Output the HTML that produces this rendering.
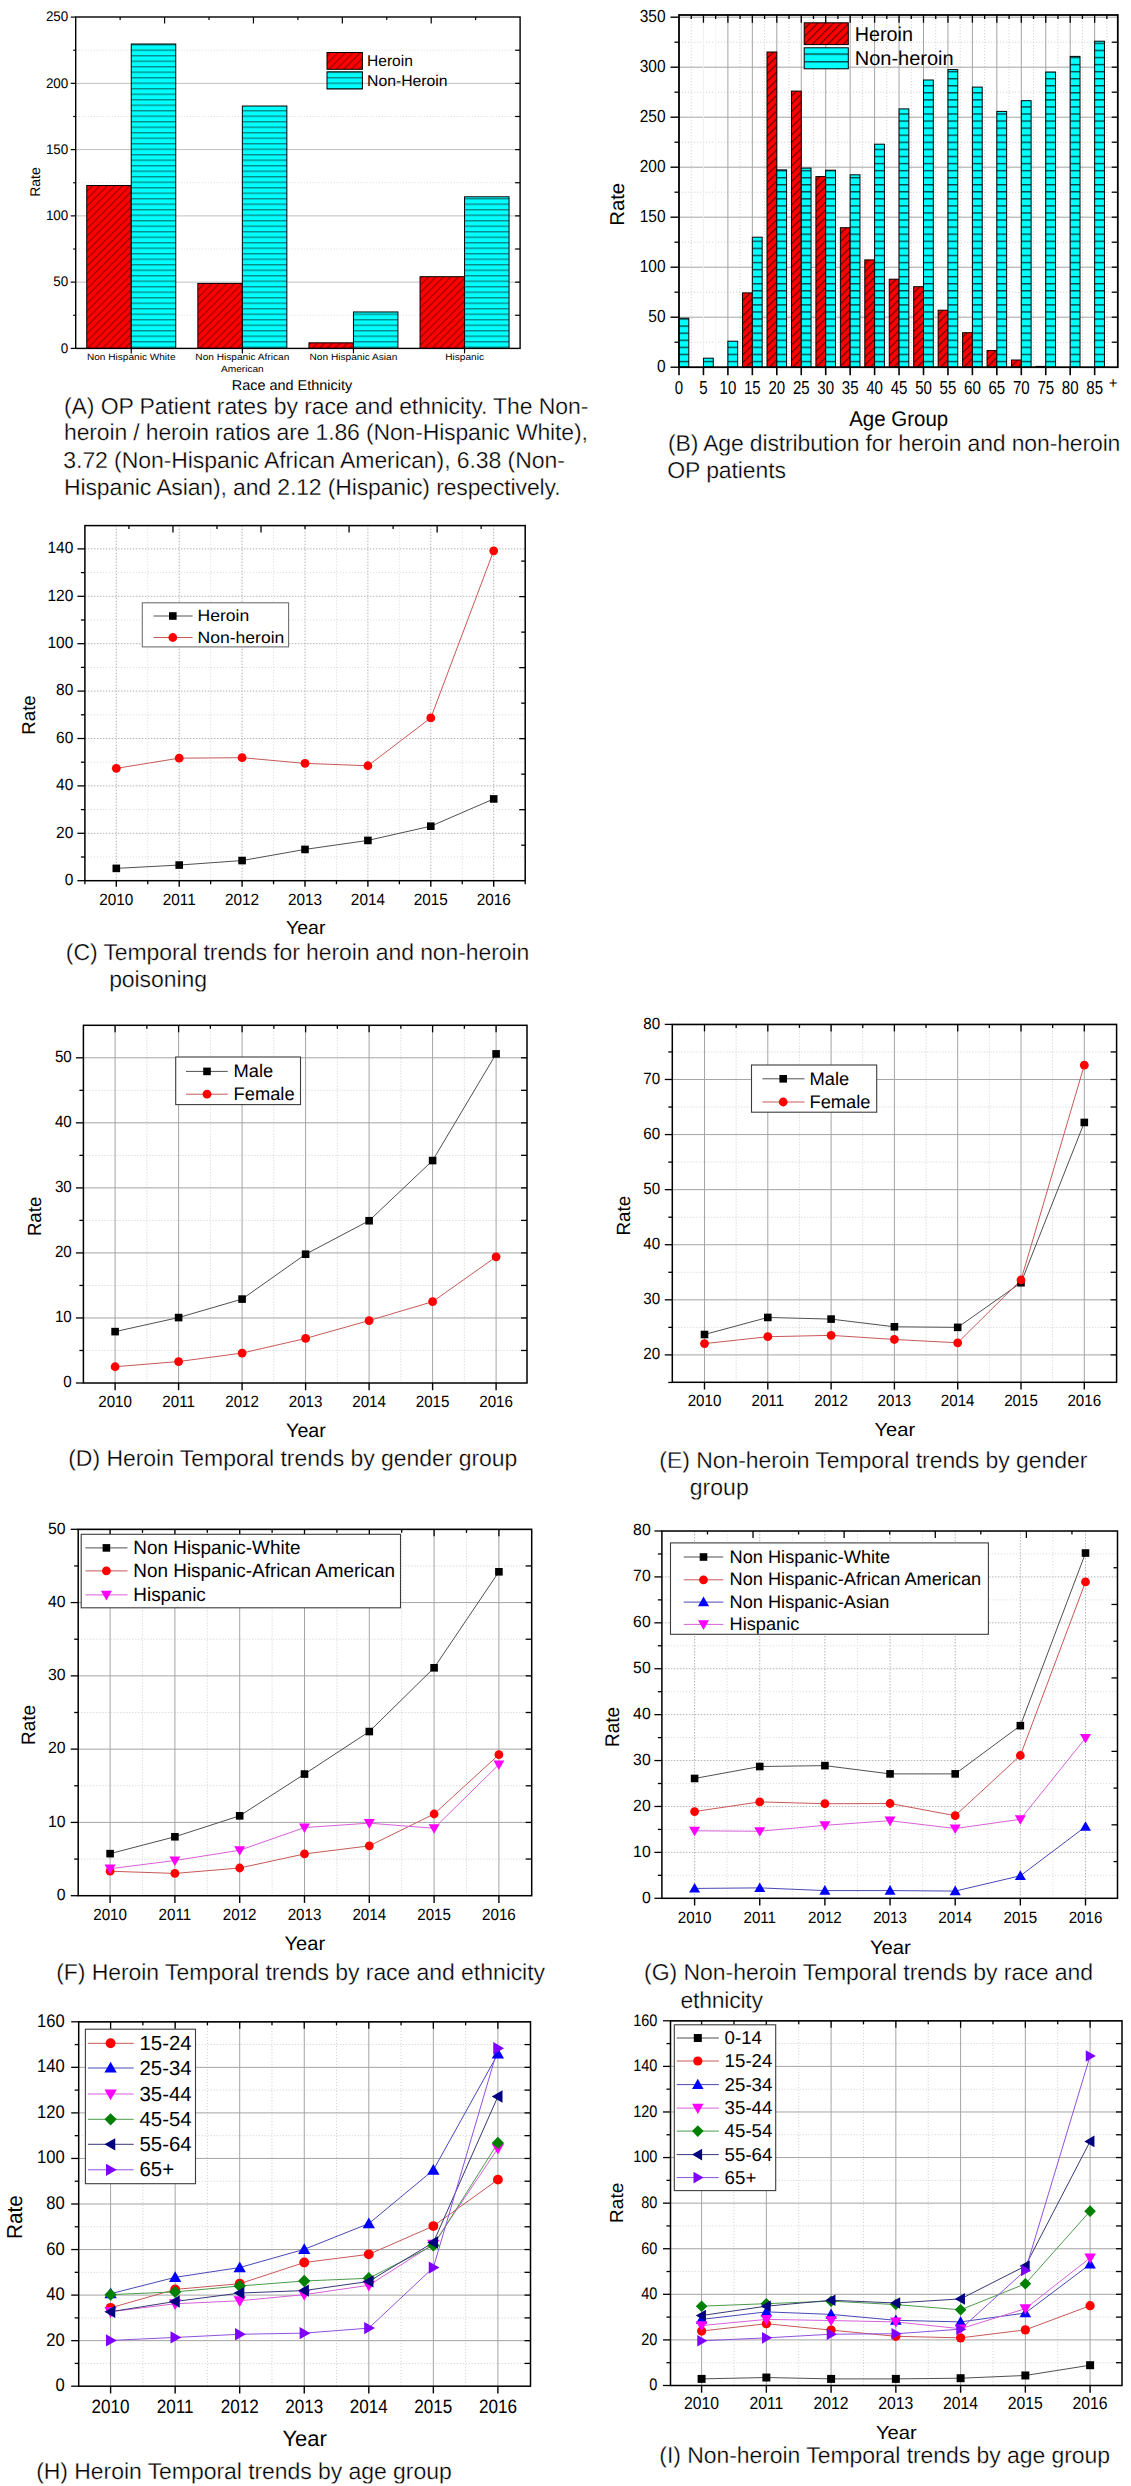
<!DOCTYPE html>
<html><head><meta charset="utf-8"><title>Figure</title>
<style>html,body{margin:0;padding:0;background:#fff;}svg{display:block;}text{font-family:"Liberation Sans",sans-serif;}</style>
</head><body>
<svg width="1131" height="2486" viewBox="0 0 1131 2486" font-family="Liberation Sans, sans-serif" text-rendering="geometricPrecision">
<defs>
<pattern id="hatchR" patternUnits="userSpaceOnUse" width="5.3" height="5.3" patternTransform="rotate(45)">
<rect width="5.3" height="5.3" fill="#ff0000"/><line x1="0.6" y1="0" x2="0.6" y2="5.3" stroke="#900000" stroke-width="1.1"/></pattern>
<pattern id="hatchRB" patternUnits="userSpaceOnUse" width="5.5" height="5.5" patternTransform="rotate(45)">
<rect width="5.5" height="5.5" fill="#ff0000"/><line x1="0.6" y1="0" x2="0.6" y2="5.5" stroke="#600000" stroke-width="1.15"/></pattern>
<pattern id="hatchC" patternUnits="userSpaceOnUse" width="10" height="5.5">
<rect width="10" height="5.5" fill="#00ffff"/><rect x="0" y="0" width="10" height="1.4" fill="#0a8a8a"/></pattern>
<pattern id="hatchCB" patternUnits="userSpaceOnUse" width="10" height="7.07" y="0.2">
<rect width="10" height="7.07" fill="#00ffff"/><rect x="0" y="0" width="10" height="1.4" fill="#064848"/></pattern>
<pattern id="hatchCL" patternUnits="userSpaceOnUse" width="10" height="7.7" y="-0.5">
<rect width="10" height="7.7" fill="#00ffff"/><rect x="0" y="0" width="10" height="1.4" fill="#064848"/></pattern>
</defs>
<rect width="1131" height="2486" fill="#fff"/>
<line x1="75.7" y1="315.27" x2="520.1" y2="315.27" stroke="#e2e2e2" stroke-width="1" stroke-dasharray="1.2 1.8"/>
<line x1="75.7" y1="249.01" x2="520.1" y2="249.01" stroke="#e2e2e2" stroke-width="1" stroke-dasharray="1.2 1.8"/>
<line x1="75.7" y1="182.75" x2="520.1" y2="182.75" stroke="#e2e2e2" stroke-width="1" stroke-dasharray="1.2 1.8"/>
<line x1="75.7" y1="116.49" x2="520.1" y2="116.49" stroke="#e2e2e2" stroke-width="1" stroke-dasharray="1.2 1.8"/>
<line x1="75.7" y1="50.23" x2="520.1" y2="50.23" stroke="#e2e2e2" stroke-width="1" stroke-dasharray="1.2 1.8"/>
<line x1="75.7" y1="282.14" x2="520.1" y2="282.14" stroke="#c0c0c0" stroke-width="1"/>
<line x1="75.7" y1="215.88" x2="520.1" y2="215.88" stroke="#c0c0c0" stroke-width="1"/>
<line x1="75.7" y1="149.62" x2="520.1" y2="149.62" stroke="#c0c0c0" stroke-width="1"/>
<line x1="75.7" y1="83.36" x2="520.1" y2="83.36" stroke="#c0c0c0" stroke-width="1"/>
<rect x="86.75" y="185.53" width="44.5" height="162.87" fill="url(#hatchR)" stroke="#000" stroke-width="1"/>
<rect x="131.25" y="44" width="44.5" height="304.4" fill="url(#hatchC)" stroke="#000" stroke-width="1"/>
<rect x="197.85" y="283.4" width="44.5" height="65" fill="url(#hatchR)" stroke="#000" stroke-width="1"/>
<rect x="242.35" y="106.02" width="44.5" height="242.38" fill="url(#hatchC)" stroke="#000" stroke-width="1"/>
<rect x="308.95" y="342.83" width="44.5" height="5.57" fill="url(#hatchR)" stroke="#000" stroke-width="1"/>
<rect x="353.45" y="311.96" width="44.5" height="36.44" fill="url(#hatchC)" stroke="#000" stroke-width="1"/>
<rect x="420.05" y="276.71" width="44.5" height="71.69" fill="url(#hatchR)" stroke="#000" stroke-width="1"/>
<rect x="464.55" y="196.8" width="44.5" height="151.6" fill="url(#hatchC)" stroke="#000" stroke-width="1"/>
<line x1="70.7" y1="348.4" x2="75.7" y2="348.4" stroke="#000" stroke-width="1.2"/>
<line x1="70.7" y1="282.14" x2="75.7" y2="282.14" stroke="#000" stroke-width="1.2"/>
<line x1="70.7" y1="215.88" x2="75.7" y2="215.88" stroke="#000" stroke-width="1.2"/>
<line x1="70.7" y1="149.62" x2="75.7" y2="149.62" stroke="#000" stroke-width="1.2"/>
<line x1="70.7" y1="83.36" x2="75.7" y2="83.36" stroke="#000" stroke-width="1.2"/>
<line x1="70.7" y1="17.1" x2="75.7" y2="17.1" stroke="#000" stroke-width="1.2"/>
<line x1="73.2" y1="315.27" x2="75.7" y2="315.27" stroke="#000" stroke-width="1.2"/>
<line x1="73.2" y1="249.01" x2="75.7" y2="249.01" stroke="#000" stroke-width="1.2"/>
<line x1="73.2" y1="182.75" x2="75.7" y2="182.75" stroke="#000" stroke-width="1.2"/>
<line x1="73.2" y1="116.49" x2="75.7" y2="116.49" stroke="#000" stroke-width="1.2"/>
<line x1="73.2" y1="50.23" x2="75.7" y2="50.23" stroke="#000" stroke-width="1.2"/>
<line x1="515.1" y1="315.27" x2="520.1" y2="315.27" stroke="#000" stroke-width="1.2"/>
<line x1="515.1" y1="282.14" x2="520.1" y2="282.14" stroke="#000" stroke-width="1.2"/>
<line x1="515.1" y1="249.01" x2="520.1" y2="249.01" stroke="#000" stroke-width="1.2"/>
<line x1="515.1" y1="215.88" x2="520.1" y2="215.88" stroke="#000" stroke-width="1.2"/>
<line x1="515.1" y1="182.75" x2="520.1" y2="182.75" stroke="#000" stroke-width="1.2"/>
<line x1="515.1" y1="149.62" x2="520.1" y2="149.62" stroke="#000" stroke-width="1.2"/>
<line x1="515.1" y1="116.49" x2="520.1" y2="116.49" stroke="#000" stroke-width="1.2"/>
<line x1="515.1" y1="83.36" x2="520.1" y2="83.36" stroke="#000" stroke-width="1.2"/>
<line x1="515.1" y1="50.23" x2="520.1" y2="50.23" stroke="#000" stroke-width="1.2"/>
<line x1="120.14" y1="17" x2="120.14" y2="20" stroke="#000" stroke-width="1.2"/>
<line x1="164.58" y1="17" x2="164.58" y2="23.5" stroke="#000" stroke-width="1.2"/>
<line x1="209.02" y1="17" x2="209.02" y2="20" stroke="#000" stroke-width="1.2"/>
<line x1="253.46" y1="17" x2="253.46" y2="23.5" stroke="#000" stroke-width="1.2"/>
<line x1="297.9" y1="17" x2="297.9" y2="20" stroke="#000" stroke-width="1.2"/>
<line x1="342.34" y1="17" x2="342.34" y2="23.5" stroke="#000" stroke-width="1.2"/>
<line x1="386.78" y1="17" x2="386.78" y2="20" stroke="#000" stroke-width="1.2"/>
<line x1="431.22" y1="17" x2="431.22" y2="23.5" stroke="#000" stroke-width="1.2"/>
<line x1="475.66" y1="17" x2="475.66" y2="20" stroke="#000" stroke-width="1.2"/>
<line x1="131.25" y1="348.4" x2="131.25" y2="353.4" stroke="#000" stroke-width="1.2"/>
<line x1="242.35" y1="348.4" x2="242.35" y2="353.4" stroke="#000" stroke-width="1.2"/>
<line x1="353.45" y1="348.4" x2="353.45" y2="353.4" stroke="#000" stroke-width="1.2"/>
<line x1="464.55" y1="348.4" x2="464.55" y2="353.4" stroke="#000" stroke-width="1.2"/>
<rect x="75.7" y="17" width="444.4" height="331.4" fill="none" stroke="#000" stroke-width="1.4"/>
<rect x="327" y="52.5" width="35.4" height="16.8" fill="url(#hatchR)" stroke="#000" stroke-width="1"/>
<rect x="327" y="71.8" width="35.4" height="17.2" fill="url(#hatchC)" stroke="#000" stroke-width="1"/>
<text x="367" y="66.3" font-size="15.5" textLength="45.9" lengthAdjust="spacingAndGlyphs">Heroin</text>
<text x="367.1" y="86.1" font-size="15.5" textLength="80.5" lengthAdjust="spacingAndGlyphs">Non-Heroin</text>
<text x="68.3" y="352.56" font-size="14" text-anchor="end" textLength="7.47" lengthAdjust="spacingAndGlyphs">0</text>
<text x="68.3" y="286.3" font-size="14" text-anchor="end" textLength="14.95" lengthAdjust="spacingAndGlyphs">50</text>
<text x="68.3" y="220.04" font-size="14" text-anchor="end" textLength="22.42" lengthAdjust="spacingAndGlyphs">100</text>
<text x="68.3" y="153.78" font-size="14" text-anchor="end" textLength="22.42" lengthAdjust="spacingAndGlyphs">150</text>
<text x="68.3" y="87.52" font-size="14" text-anchor="end" textLength="22.42" lengthAdjust="spacingAndGlyphs">200</text>
<text x="68.3" y="21.26" font-size="14" text-anchor="end" textLength="22.42" lengthAdjust="spacingAndGlyphs">250</text>
<text x="86.95" y="360.2" font-size="9.2" textLength="88.6" lengthAdjust="spacingAndGlyphs">Non Hispanic White</text>
<text x="242.35" y="360.2" font-size="9.2" text-anchor="middle" textLength="93.93" lengthAdjust="spacingAndGlyphs">Non Hispanic African</text>
<text x="242.35" y="372" font-size="9.2" text-anchor="middle" textLength="42.74" lengthAdjust="spacingAndGlyphs">American</text>
<text x="353.45" y="360.2" font-size="9.2" text-anchor="middle" textLength="87.75" lengthAdjust="spacingAndGlyphs">Non Hispanic Asian</text>
<text x="464.55" y="360.2" font-size="9.2" text-anchor="middle" textLength="38.81" lengthAdjust="spacingAndGlyphs">Hispanic</text>
<text x="231.8" y="389.8" font-size="14.3" textLength="120.4" lengthAdjust="spacingAndGlyphs">Race and Ethnicity</text>
<text x="40.4" y="182" font-size="14" text-anchor="middle" textLength="29.7" lengthAdjust="spacingAndGlyphs" transform="rotate(-90 40.4 182)">Rate</text>
<text x="64.05" y="413.5" font-size="23" textLength="524.25" lengthAdjust="spacing" stroke="#fff" stroke-width="0.3">(A) OP Patient rates by race and ethnicity.  The Non-</text>
<text x="64.05" y="440.4" font-size="23" textLength="523.75" lengthAdjust="spacing" stroke="#fff" stroke-width="0.3">heroin / heroin ratios are 1.86 (Non-Hispanic White),</text>
<text x="63.35" y="468.3" font-size="23" textLength="501.45" lengthAdjust="spacing" stroke="#fff" stroke-width="0.3">3.72 (Non-Hispanic African American), 6.38 (Non-</text>
<text x="64.05" y="495" font-size="23" textLength="496.55" lengthAdjust="spacing" stroke="#fff" stroke-width="0.3">Hispanic Asian), and 2.12 (Hispanic) respectively.</text>
<line x1="679" y1="342.2" x2="1117.8" y2="342.2" stroke="#d6d6d6" stroke-width="1" stroke-dasharray="1.2 1.8"/>
<line x1="679" y1="292.2" x2="1117.8" y2="292.2" stroke="#d6d6d6" stroke-width="1" stroke-dasharray="1.2 1.8"/>
<line x1="679" y1="242.2" x2="1117.8" y2="242.2" stroke="#d6d6d6" stroke-width="1" stroke-dasharray="1.2 1.8"/>
<line x1="679" y1="192.2" x2="1117.8" y2="192.2" stroke="#d6d6d6" stroke-width="1" stroke-dasharray="1.2 1.8"/>
<line x1="679" y1="142.2" x2="1117.8" y2="142.2" stroke="#d6d6d6" stroke-width="1" stroke-dasharray="1.2 1.8"/>
<line x1="679" y1="92.2" x2="1117.8" y2="92.2" stroke="#d6d6d6" stroke-width="1" stroke-dasharray="1.2 1.8"/>
<line x1="679" y1="42.2" x2="1117.8" y2="42.2" stroke="#d6d6d6" stroke-width="1" stroke-dasharray="1.2 1.8"/>
<line x1="691.23" y1="15" x2="691.23" y2="367.2" stroke="#d6d6d6" stroke-width="1" stroke-dasharray="1.2 1.8"/>
<line x1="715.68" y1="15" x2="715.68" y2="367.2" stroke="#f4f4f4" stroke-width="1"/>
<line x1="740.12" y1="15" x2="740.12" y2="367.2" stroke="#d6d6d6" stroke-width="1" stroke-dasharray="1.2 1.8"/>
<line x1="764.58" y1="15" x2="764.58" y2="367.2" stroke="#d6d6d6" stroke-width="1" stroke-dasharray="1.2 1.8"/>
<line x1="789.02" y1="15" x2="789.02" y2="367.2" stroke="#d6d6d6" stroke-width="1" stroke-dasharray="1.2 1.8"/>
<line x1="813.48" y1="15" x2="813.48" y2="367.2" stroke="#d6d6d6" stroke-width="1" stroke-dasharray="1.2 1.8"/>
<line x1="837.93" y1="15" x2="837.93" y2="367.2" stroke="#d6d6d6" stroke-width="1" stroke-dasharray="1.2 1.8"/>
<line x1="862.38" y1="15" x2="862.38" y2="367.2" stroke="#d6d6d6" stroke-width="1" stroke-dasharray="1.2 1.8"/>
<line x1="886.83" y1="15" x2="886.83" y2="367.2" stroke="#d6d6d6" stroke-width="1" stroke-dasharray="1.2 1.8"/>
<line x1="911.27" y1="15" x2="911.27" y2="367.2" stroke="#d6d6d6" stroke-width="1" stroke-dasharray="1.2 1.8"/>
<line x1="935.73" y1="15" x2="935.73" y2="367.2" stroke="#d6d6d6" stroke-width="1" stroke-dasharray="1.2 1.8"/>
<line x1="960.18" y1="15" x2="960.18" y2="367.2" stroke="#d6d6d6" stroke-width="1" stroke-dasharray="1.2 1.8"/>
<line x1="984.62" y1="15" x2="984.62" y2="367.2" stroke="#d6d6d6" stroke-width="1" stroke-dasharray="1.2 1.8"/>
<line x1="1009.07" y1="15" x2="1009.07" y2="367.2" stroke="#d6d6d6" stroke-width="1" stroke-dasharray="1.2 1.8"/>
<line x1="1033.52" y1="15" x2="1033.52" y2="367.2" stroke="#d6d6d6" stroke-width="1" stroke-dasharray="1.2 1.8"/>
<line x1="1057.97" y1="15" x2="1057.97" y2="367.2" stroke="#d6d6d6" stroke-width="1" stroke-dasharray="1.2 1.8"/>
<line x1="1082.42" y1="15" x2="1082.42" y2="367.2" stroke="#d6d6d6" stroke-width="1" stroke-dasharray="1.2 1.8"/>
<line x1="1106.88" y1="15" x2="1106.88" y2="367.2" stroke="#d6d6d6" stroke-width="1" stroke-dasharray="1.2 1.8"/>
<line x1="679" y1="317.2" x2="1117.8" y2="317.2" stroke="#a4a4a4" stroke-width="1"/>
<line x1="679" y1="267.2" x2="1117.8" y2="267.2" stroke="#a4a4a4" stroke-width="1"/>
<line x1="679" y1="217.2" x2="1117.8" y2="217.2" stroke="#a4a4a4" stroke-width="1"/>
<line x1="679" y1="167.2" x2="1117.8" y2="167.2" stroke="#a4a4a4" stroke-width="1"/>
<line x1="679" y1="117.2" x2="1117.8" y2="117.2" stroke="#a4a4a4" stroke-width="1"/>
<line x1="679" y1="67.2" x2="1117.8" y2="67.2" stroke="#a4a4a4" stroke-width="1"/>
<line x1="679" y1="17.2" x2="1117.8" y2="17.2" stroke="#a4a4a4" stroke-width="1"/>
<line x1="703.45" y1="15" x2="703.45" y2="367.2" stroke="#f0f0f0" stroke-width="1"/>
<line x1="727.9" y1="15" x2="727.9" y2="367.2" stroke="#a4a4a4" stroke-width="1"/>
<line x1="752.35" y1="15" x2="752.35" y2="367.2" stroke="#a4a4a4" stroke-width="1"/>
<line x1="776.8" y1="15" x2="776.8" y2="367.2" stroke="#a4a4a4" stroke-width="1"/>
<line x1="801.25" y1="15" x2="801.25" y2="367.2" stroke="#a4a4a4" stroke-width="1"/>
<line x1="825.7" y1="15" x2="825.7" y2="367.2" stroke="#a4a4a4" stroke-width="1"/>
<line x1="850.15" y1="15" x2="850.15" y2="367.2" stroke="#a4a4a4" stroke-width="1"/>
<line x1="874.6" y1="15" x2="874.6" y2="367.2" stroke="#a4a4a4" stroke-width="1"/>
<line x1="899.05" y1="15" x2="899.05" y2="367.2" stroke="#a4a4a4" stroke-width="1"/>
<line x1="923.5" y1="15" x2="923.5" y2="367.2" stroke="#a4a4a4" stroke-width="1"/>
<line x1="947.95" y1="15" x2="947.95" y2="367.2" stroke="#a4a4a4" stroke-width="1"/>
<line x1="972.4" y1="15" x2="972.4" y2="367.2" stroke="#a4a4a4" stroke-width="1"/>
<line x1="996.85" y1="15" x2="996.85" y2="367.2" stroke="#a4a4a4" stroke-width="1"/>
<line x1="1021.3" y1="15" x2="1021.3" y2="367.2" stroke="#a4a4a4" stroke-width="1"/>
<line x1="1045.75" y1="15" x2="1045.75" y2="367.2" stroke="#a4a4a4" stroke-width="1"/>
<line x1="1070.2" y1="15" x2="1070.2" y2="367.2" stroke="#a4a4a4" stroke-width="1"/>
<line x1="1094.65" y1="15" x2="1094.65" y2="367.2" stroke="#a4a4a4" stroke-width="1"/>
<rect x="679" y="318.2" width="9.8" height="49" fill="url(#hatchCB)" stroke="#000" stroke-width="1"/>
<rect x="703.45" y="358.2" width="9.8" height="9" fill="url(#hatchCB)" stroke="#000" stroke-width="1"/>
<rect x="727.9" y="341.2" width="9.8" height="26" fill="url(#hatchCB)" stroke="#000" stroke-width="1"/>
<rect x="742.55" y="292.9" width="9.8" height="74.3" fill="url(#hatchRB)" stroke="#000" stroke-width="1"/>
<rect x="752.35" y="237.2" width="9.8" height="130" fill="url(#hatchCB)" stroke="#000" stroke-width="1"/>
<rect x="767" y="52" width="9.8" height="315.2" fill="url(#hatchRB)" stroke="#000" stroke-width="1"/>
<rect x="776.8" y="169.9" width="9.8" height="197.3" fill="url(#hatchCB)" stroke="#000" stroke-width="1"/>
<rect x="791.45" y="91.1" width="9.8" height="276.1" fill="url(#hatchRB)" stroke="#000" stroke-width="1"/>
<rect x="801.25" y="168.1" width="9.8" height="199.1" fill="url(#hatchCB)" stroke="#000" stroke-width="1"/>
<rect x="815.9" y="176.6" width="9.8" height="190.6" fill="url(#hatchRB)" stroke="#000" stroke-width="1"/>
<rect x="825.7" y="170.2" width="9.8" height="197" fill="url(#hatchCB)" stroke="#000" stroke-width="1"/>
<rect x="840.35" y="227.7" width="9.8" height="139.5" fill="url(#hatchRB)" stroke="#000" stroke-width="1"/>
<rect x="850.15" y="174.8" width="9.8" height="192.4" fill="url(#hatchCB)" stroke="#000" stroke-width="1"/>
<rect x="864.8" y="259.9" width="9.8" height="107.3" fill="url(#hatchRB)" stroke="#000" stroke-width="1"/>
<rect x="874.6" y="144.2" width="9.8" height="223" fill="url(#hatchCB)" stroke="#000" stroke-width="1"/>
<rect x="889.25" y="279.2" width="9.8" height="88" fill="url(#hatchRB)" stroke="#000" stroke-width="1"/>
<rect x="899.05" y="108.9" width="9.8" height="258.3" fill="url(#hatchCB)" stroke="#000" stroke-width="1"/>
<rect x="913.7" y="286.7" width="9.8" height="80.5" fill="url(#hatchRB)" stroke="#000" stroke-width="1"/>
<rect x="923.5" y="80" width="9.8" height="287.2" fill="url(#hatchCB)" stroke="#000" stroke-width="1"/>
<rect x="938.15" y="310.2" width="9.8" height="57" fill="url(#hatchRB)" stroke="#000" stroke-width="1"/>
<rect x="947.95" y="69.6" width="9.8" height="297.6" fill="url(#hatchCB)" stroke="#000" stroke-width="1"/>
<rect x="962.6" y="332.7" width="9.8" height="34.5" fill="url(#hatchRB)" stroke="#000" stroke-width="1"/>
<rect x="972.4" y="87.1" width="9.8" height="280.1" fill="url(#hatchCB)" stroke="#000" stroke-width="1"/>
<rect x="987.05" y="350.6" width="9.8" height="16.6" fill="url(#hatchRB)" stroke="#000" stroke-width="1"/>
<rect x="996.85" y="111.4" width="9.8" height="255.8" fill="url(#hatchCB)" stroke="#000" stroke-width="1"/>
<rect x="1011.5" y="360" width="9.8" height="7.2" fill="url(#hatchRB)" stroke="#000" stroke-width="1"/>
<rect x="1021.3" y="100.7" width="9.8" height="266.5" fill="url(#hatchCB)" stroke="#000" stroke-width="1"/>
<rect x="1035.95" y="366.4" width="9.8" height="0.8" fill="url(#hatchRB)" stroke="#000" stroke-width="1"/>
<rect x="1045.75" y="72" width="9.8" height="295.2" fill="url(#hatchCB)" stroke="#000" stroke-width="1"/>
<rect x="1070.2" y="56.4" width="9.8" height="310.8" fill="url(#hatchCB)" stroke="#000" stroke-width="1"/>
<rect x="1094.65" y="41.2" width="9.8" height="326" fill="url(#hatchCB)" stroke="#000" stroke-width="1"/>
<line x1="670.5" y1="367.2" x2="679" y2="367.2" stroke="#000" stroke-width="1.4"/>
<line x1="670.5" y1="317.2" x2="679" y2="317.2" stroke="#000" stroke-width="1.4"/>
<line x1="670.5" y1="267.2" x2="679" y2="267.2" stroke="#000" stroke-width="1.4"/>
<line x1="670.5" y1="217.2" x2="679" y2="217.2" stroke="#000" stroke-width="1.4"/>
<line x1="670.5" y1="167.2" x2="679" y2="167.2" stroke="#000" stroke-width="1.4"/>
<line x1="670.5" y1="117.2" x2="679" y2="117.2" stroke="#000" stroke-width="1.4"/>
<line x1="670.5" y1="67.2" x2="679" y2="67.2" stroke="#000" stroke-width="1.4"/>
<line x1="670.5" y1="17.2" x2="679" y2="17.2" stroke="#000" stroke-width="1.4"/>
<line x1="674.5" y1="342.2" x2="679" y2="342.2" stroke="#000" stroke-width="1.3"/>
<line x1="674.5" y1="292.2" x2="679" y2="292.2" stroke="#000" stroke-width="1.3"/>
<line x1="674.5" y1="242.2" x2="679" y2="242.2" stroke="#000" stroke-width="1.3"/>
<line x1="674.5" y1="192.2" x2="679" y2="192.2" stroke="#000" stroke-width="1.3"/>
<line x1="674.5" y1="142.2" x2="679" y2="142.2" stroke="#000" stroke-width="1.3"/>
<line x1="674.5" y1="92.2" x2="679" y2="92.2" stroke="#000" stroke-width="1.3"/>
<line x1="674.5" y1="42.2" x2="679" y2="42.2" stroke="#000" stroke-width="1.3"/>
<line x1="1111.8" y1="342.2" x2="1117.8" y2="342.2" stroke="#000" stroke-width="1.3"/>
<line x1="1111.8" y1="317.2" x2="1117.8" y2="317.2" stroke="#000" stroke-width="1.3"/>
<line x1="1111.8" y1="292.2" x2="1117.8" y2="292.2" stroke="#000" stroke-width="1.3"/>
<line x1="1111.8" y1="267.2" x2="1117.8" y2="267.2" stroke="#000" stroke-width="1.3"/>
<line x1="1111.8" y1="242.2" x2="1117.8" y2="242.2" stroke="#000" stroke-width="1.3"/>
<line x1="1111.8" y1="217.2" x2="1117.8" y2="217.2" stroke="#000" stroke-width="1.3"/>
<line x1="1111.8" y1="192.2" x2="1117.8" y2="192.2" stroke="#000" stroke-width="1.3"/>
<line x1="1111.8" y1="167.2" x2="1117.8" y2="167.2" stroke="#000" stroke-width="1.3"/>
<line x1="1111.8" y1="142.2" x2="1117.8" y2="142.2" stroke="#000" stroke-width="1.3"/>
<line x1="1111.8" y1="117.2" x2="1117.8" y2="117.2" stroke="#000" stroke-width="1.3"/>
<line x1="1111.8" y1="92.2" x2="1117.8" y2="92.2" stroke="#000" stroke-width="1.3"/>
<line x1="1111.8" y1="67.2" x2="1117.8" y2="67.2" stroke="#000" stroke-width="1.3"/>
<line x1="1111.8" y1="42.2" x2="1117.8" y2="42.2" stroke="#000" stroke-width="1.3"/>
<line x1="691.23" y1="15" x2="691.23" y2="19" stroke="#000" stroke-width="1.3"/>
<line x1="679" y1="367.2" x2="679" y2="375.2" stroke="#000" stroke-width="1.6"/>
<line x1="703.45" y1="15" x2="703.45" y2="22.7" stroke="#000" stroke-width="1.3"/>
<line x1="715.68" y1="15" x2="715.68" y2="19" stroke="#000" stroke-width="1.3"/>
<line x1="703.45" y1="367.2" x2="703.45" y2="375.2" stroke="#000" stroke-width="1.6"/>
<line x1="727.9" y1="15" x2="727.9" y2="22.7" stroke="#000" stroke-width="1.3"/>
<line x1="740.12" y1="15" x2="740.12" y2="19" stroke="#000" stroke-width="1.3"/>
<line x1="727.9" y1="367.2" x2="727.9" y2="375.2" stroke="#000" stroke-width="1.6"/>
<line x1="752.35" y1="15" x2="752.35" y2="22.7" stroke="#000" stroke-width="1.3"/>
<line x1="764.58" y1="15" x2="764.58" y2="19" stroke="#000" stroke-width="1.3"/>
<line x1="752.35" y1="367.2" x2="752.35" y2="375.2" stroke="#000" stroke-width="1.6"/>
<line x1="776.8" y1="15" x2="776.8" y2="22.7" stroke="#000" stroke-width="1.3"/>
<line x1="789.02" y1="15" x2="789.02" y2="19" stroke="#000" stroke-width="1.3"/>
<line x1="776.8" y1="367.2" x2="776.8" y2="375.2" stroke="#000" stroke-width="1.6"/>
<line x1="801.25" y1="15" x2="801.25" y2="22.7" stroke="#000" stroke-width="1.3"/>
<line x1="813.48" y1="15" x2="813.48" y2="19" stroke="#000" stroke-width="1.3"/>
<line x1="801.25" y1="367.2" x2="801.25" y2="375.2" stroke="#000" stroke-width="1.6"/>
<line x1="825.7" y1="15" x2="825.7" y2="22.7" stroke="#000" stroke-width="1.3"/>
<line x1="837.93" y1="15" x2="837.93" y2="19" stroke="#000" stroke-width="1.3"/>
<line x1="825.7" y1="367.2" x2="825.7" y2="375.2" stroke="#000" stroke-width="1.6"/>
<line x1="850.15" y1="15" x2="850.15" y2="22.7" stroke="#000" stroke-width="1.3"/>
<line x1="862.38" y1="15" x2="862.38" y2="19" stroke="#000" stroke-width="1.3"/>
<line x1="850.15" y1="367.2" x2="850.15" y2="375.2" stroke="#000" stroke-width="1.6"/>
<line x1="874.6" y1="15" x2="874.6" y2="22.7" stroke="#000" stroke-width="1.3"/>
<line x1="886.83" y1="15" x2="886.83" y2="19" stroke="#000" stroke-width="1.3"/>
<line x1="874.6" y1="367.2" x2="874.6" y2="375.2" stroke="#000" stroke-width="1.6"/>
<line x1="899.05" y1="15" x2="899.05" y2="22.7" stroke="#000" stroke-width="1.3"/>
<line x1="911.27" y1="15" x2="911.27" y2="19" stroke="#000" stroke-width="1.3"/>
<line x1="899.05" y1="367.2" x2="899.05" y2="375.2" stroke="#000" stroke-width="1.6"/>
<line x1="923.5" y1="15" x2="923.5" y2="22.7" stroke="#000" stroke-width="1.3"/>
<line x1="935.73" y1="15" x2="935.73" y2="19" stroke="#000" stroke-width="1.3"/>
<line x1="923.5" y1="367.2" x2="923.5" y2="375.2" stroke="#000" stroke-width="1.6"/>
<line x1="947.95" y1="15" x2="947.95" y2="22.7" stroke="#000" stroke-width="1.3"/>
<line x1="960.18" y1="15" x2="960.18" y2="19" stroke="#000" stroke-width="1.3"/>
<line x1="947.95" y1="367.2" x2="947.95" y2="375.2" stroke="#000" stroke-width="1.6"/>
<line x1="972.4" y1="15" x2="972.4" y2="22.7" stroke="#000" stroke-width="1.3"/>
<line x1="984.62" y1="15" x2="984.62" y2="19" stroke="#000" stroke-width="1.3"/>
<line x1="972.4" y1="367.2" x2="972.4" y2="375.2" stroke="#000" stroke-width="1.6"/>
<line x1="996.85" y1="15" x2="996.85" y2="22.7" stroke="#000" stroke-width="1.3"/>
<line x1="1009.07" y1="15" x2="1009.07" y2="19" stroke="#000" stroke-width="1.3"/>
<line x1="996.85" y1="367.2" x2="996.85" y2="375.2" stroke="#000" stroke-width="1.6"/>
<line x1="1021.3" y1="15" x2="1021.3" y2="22.7" stroke="#000" stroke-width="1.3"/>
<line x1="1033.52" y1="15" x2="1033.52" y2="19" stroke="#000" stroke-width="1.3"/>
<line x1="1021.3" y1="367.2" x2="1021.3" y2="375.2" stroke="#000" stroke-width="1.6"/>
<line x1="1045.75" y1="15" x2="1045.75" y2="22.7" stroke="#000" stroke-width="1.3"/>
<line x1="1057.97" y1="15" x2="1057.97" y2="19" stroke="#000" stroke-width="1.3"/>
<line x1="1045.75" y1="367.2" x2="1045.75" y2="375.2" stroke="#000" stroke-width="1.6"/>
<line x1="1070.2" y1="15" x2="1070.2" y2="22.7" stroke="#000" stroke-width="1.3"/>
<line x1="1082.42" y1="15" x2="1082.42" y2="19" stroke="#000" stroke-width="1.3"/>
<line x1="1070.2" y1="367.2" x2="1070.2" y2="375.2" stroke="#000" stroke-width="1.6"/>
<line x1="1094.65" y1="15" x2="1094.65" y2="22.7" stroke="#000" stroke-width="1.3"/>
<line x1="1106.88" y1="15" x2="1106.88" y2="19" stroke="#000" stroke-width="1.3"/>
<line x1="1094.65" y1="367.2" x2="1094.65" y2="375.2" stroke="#000" stroke-width="1.6"/>
<rect x="679" y="15" width="438.8" height="352.2" fill="none" stroke="#000" stroke-width="1.8"/>
<rect x="804.2" y="22.8" width="44.1" height="21.8" fill="url(#hatchRB)" stroke="#000" stroke-width="1"/>
<rect x="804.2" y="47.8" width="44.1" height="21" fill="url(#hatchCL)" stroke="#000" stroke-width="1"/>
<text x="854.7" y="40.8" font-size="20" textLength="58.2" lengthAdjust="spacingAndGlyphs">Heroin</text>
<text x="854.7" y="64.9" font-size="20" textLength="99" lengthAdjust="spacingAndGlyphs">Non-heroin</text>
<text x="665.5" y="372.46" font-size="17.4" text-anchor="end" textLength="8.61" lengthAdjust="spacingAndGlyphs">0</text>
<text x="665.5" y="322.46" font-size="17.4" text-anchor="end" textLength="17.22" lengthAdjust="spacingAndGlyphs">50</text>
<text x="665.5" y="272.46" font-size="17.4" text-anchor="end" textLength="25.84" lengthAdjust="spacingAndGlyphs">100</text>
<text x="665.5" y="222.46" font-size="17.4" text-anchor="end" textLength="25.84" lengthAdjust="spacingAndGlyphs">150</text>
<text x="665.5" y="172.46" font-size="17.4" text-anchor="end" textLength="25.84" lengthAdjust="spacingAndGlyphs">200</text>
<text x="665.5" y="122.46" font-size="17.4" text-anchor="end" textLength="25.84" lengthAdjust="spacingAndGlyphs">250</text>
<text x="665.5" y="72.46" font-size="17.4" text-anchor="end" textLength="25.84" lengthAdjust="spacingAndGlyphs">300</text>
<text x="665.5" y="22.46" font-size="17.4" text-anchor="end" textLength="25.84" lengthAdjust="spacingAndGlyphs">350</text>
<text x="679" y="393.9" font-size="18.8" text-anchor="middle" textLength="8.36" lengthAdjust="spacingAndGlyphs">0</text>
<text x="703.45" y="393.9" font-size="18.8" text-anchor="middle" textLength="8.36" lengthAdjust="spacingAndGlyphs">5</text>
<text x="727.9" y="393.9" font-size="18.8" text-anchor="middle" textLength="16.73" lengthAdjust="spacingAndGlyphs">10</text>
<text x="752.35" y="393.9" font-size="18.8" text-anchor="middle" textLength="16.73" lengthAdjust="spacingAndGlyphs">15</text>
<text x="776.8" y="393.9" font-size="18.8" text-anchor="middle" textLength="16.73" lengthAdjust="spacingAndGlyphs">20</text>
<text x="801.25" y="393.9" font-size="18.8" text-anchor="middle" textLength="16.73" lengthAdjust="spacingAndGlyphs">25</text>
<text x="825.7" y="393.9" font-size="18.8" text-anchor="middle" textLength="16.73" lengthAdjust="spacingAndGlyphs">30</text>
<text x="850.15" y="393.9" font-size="18.8" text-anchor="middle" textLength="16.73" lengthAdjust="spacingAndGlyphs">35</text>
<text x="874.6" y="393.9" font-size="18.8" text-anchor="middle" textLength="16.73" lengthAdjust="spacingAndGlyphs">40</text>
<text x="899.05" y="393.9" font-size="18.8" text-anchor="middle" textLength="16.73" lengthAdjust="spacingAndGlyphs">45</text>
<text x="923.5" y="393.9" font-size="18.8" text-anchor="middle" textLength="16.73" lengthAdjust="spacingAndGlyphs">50</text>
<text x="947.95" y="393.9" font-size="18.8" text-anchor="middle" textLength="16.73" lengthAdjust="spacingAndGlyphs">55</text>
<text x="972.4" y="393.9" font-size="18.8" text-anchor="middle" textLength="16.73" lengthAdjust="spacingAndGlyphs">60</text>
<text x="996.85" y="393.9" font-size="18.8" text-anchor="middle" textLength="16.73" lengthAdjust="spacingAndGlyphs">65</text>
<text x="1021.3" y="393.9" font-size="18.8" text-anchor="middle" textLength="16.73" lengthAdjust="spacingAndGlyphs">70</text>
<text x="1045.75" y="393.9" font-size="18.8" text-anchor="middle" textLength="16.73" lengthAdjust="spacingAndGlyphs">75</text>
<text x="1070.2" y="393.9" font-size="18.8" text-anchor="middle" textLength="16.73" lengthAdjust="spacingAndGlyphs">80</text>
<text x="1094.65" y="393.9" font-size="18.8" text-anchor="middle" textLength="16.73" lengthAdjust="spacingAndGlyphs">85</text>
<text x="1113.2" y="388.3" font-size="15" text-anchor="middle">+</text>
<text x="849.2" y="425.6" font-size="21.3" textLength="99" lengthAdjust="spacingAndGlyphs">Age Group</text>
<text x="624.3" y="204.3" font-size="20" text-anchor="middle" textLength="43" lengthAdjust="spacingAndGlyphs" transform="rotate(-90 624.3 204.3)">Rate</text>
<text x="667.95" y="450.6" font-size="23" textLength="452.45" lengthAdjust="spacing" stroke="#fff" stroke-width="0.3">(B) Age distribution for heroin and non-heroin</text>
<text x="667.25" y="478.2" font-size="23" textLength="118.75" lengthAdjust="spacing" stroke="#fff" stroke-width="0.3">OP patients</text>
<line x1="84.9" y1="857" x2="525.2" y2="857" stroke="#dedede" stroke-width="1" stroke-dasharray="1.2 1.8"/>
<line x1="84.9" y1="809.6" x2="525.2" y2="809.6" stroke="#dedede" stroke-width="1" stroke-dasharray="1.2 1.8"/>
<line x1="84.9" y1="762.2" x2="525.2" y2="762.2" stroke="#dedede" stroke-width="1" stroke-dasharray="1.2 1.8"/>
<line x1="84.9" y1="714.8" x2="525.2" y2="714.8" stroke="#dedede" stroke-width="1" stroke-dasharray="1.2 1.8"/>
<line x1="84.9" y1="667.4" x2="525.2" y2="667.4" stroke="#dedede" stroke-width="1" stroke-dasharray="1.2 1.8"/>
<line x1="84.9" y1="620" x2="525.2" y2="620" stroke="#dedede" stroke-width="1" stroke-dasharray="1.2 1.8"/>
<line x1="84.9" y1="572.6" x2="525.2" y2="572.6" stroke="#dedede" stroke-width="1" stroke-dasharray="1.2 1.8"/>
<line x1="147.75" y1="525.6" x2="147.75" y2="880.7" stroke="#dedede" stroke-width="1" stroke-dasharray="1.2 1.8"/>
<line x1="210.65" y1="525.6" x2="210.65" y2="880.7" stroke="#dedede" stroke-width="1" stroke-dasharray="1.2 1.8"/>
<line x1="273.55" y1="525.6" x2="273.55" y2="880.7" stroke="#dedede" stroke-width="1" stroke-dasharray="1.2 1.8"/>
<line x1="336.45" y1="525.6" x2="336.45" y2="880.7" stroke="#dedede" stroke-width="1" stroke-dasharray="1.2 1.8"/>
<line x1="399.35" y1="525.6" x2="399.35" y2="880.7" stroke="#dedede" stroke-width="1" stroke-dasharray="1.2 1.8"/>
<line x1="462.25" y1="525.6" x2="462.25" y2="880.7" stroke="#dedede" stroke-width="1" stroke-dasharray="1.2 1.8"/>
<line x1="84.9" y1="833.3" x2="525.2" y2="833.3" stroke="#b4b4b4" stroke-width="1" stroke-dasharray="1.5 1.5"/>
<line x1="84.9" y1="785.9" x2="525.2" y2="785.9" stroke="#b4b4b4" stroke-width="1" stroke-dasharray="1.5 1.5"/>
<line x1="84.9" y1="738.5" x2="525.2" y2="738.5" stroke="#b4b4b4" stroke-width="1" stroke-dasharray="1.5 1.5"/>
<line x1="84.9" y1="691.1" x2="525.2" y2="691.1" stroke="#b4b4b4" stroke-width="1" stroke-dasharray="1.5 1.5"/>
<line x1="84.9" y1="643.7" x2="525.2" y2="643.7" stroke="#b4b4b4" stroke-width="1" stroke-dasharray="1.5 1.5"/>
<line x1="84.9" y1="596.3" x2="525.2" y2="596.3" stroke="#b4b4b4" stroke-width="1" stroke-dasharray="1.5 1.5"/>
<line x1="84.9" y1="548.9" x2="525.2" y2="548.9" stroke="#b4b4b4" stroke-width="1" stroke-dasharray="1.5 1.5"/>
<line x1="116.3" y1="525.6" x2="116.3" y2="880.7" stroke="#b4b4b4" stroke-width="1" stroke-dasharray="1.5 1.5"/>
<line x1="179.2" y1="525.6" x2="179.2" y2="880.7" stroke="#b4b4b4" stroke-width="1" stroke-dasharray="1.5 1.5"/>
<line x1="242.1" y1="525.6" x2="242.1" y2="880.7" stroke="#b4b4b4" stroke-width="1" stroke-dasharray="1.5 1.5"/>
<line x1="305" y1="525.6" x2="305" y2="880.7" stroke="#b4b4b4" stroke-width="1" stroke-dasharray="1.5 1.5"/>
<line x1="367.9" y1="525.6" x2="367.9" y2="880.7" stroke="#b4b4b4" stroke-width="1" stroke-dasharray="1.5 1.5"/>
<line x1="430.8" y1="525.6" x2="430.8" y2="880.7" stroke="#b4b4b4" stroke-width="1" stroke-dasharray="1.5 1.5"/>
<line x1="493.7" y1="525.6" x2="493.7" y2="880.7" stroke="#b4b4b4" stroke-width="1" stroke-dasharray="1.5 1.5"/>
<line x1="77.4" y1="880.7" x2="84.9" y2="880.7" stroke="#000" stroke-width="1.3"/>
<line x1="77.4" y1="833.3" x2="84.9" y2="833.3" stroke="#000" stroke-width="1.3"/>
<line x1="77.4" y1="785.9" x2="84.9" y2="785.9" stroke="#000" stroke-width="1.3"/>
<line x1="77.4" y1="738.5" x2="84.9" y2="738.5" stroke="#000" stroke-width="1.3"/>
<line x1="77.4" y1="691.1" x2="84.9" y2="691.1" stroke="#000" stroke-width="1.3"/>
<line x1="77.4" y1="643.7" x2="84.9" y2="643.7" stroke="#000" stroke-width="1.3"/>
<line x1="77.4" y1="596.3" x2="84.9" y2="596.3" stroke="#000" stroke-width="1.3"/>
<line x1="77.4" y1="548.9" x2="84.9" y2="548.9" stroke="#000" stroke-width="1.3"/>
<line x1="80.9" y1="857" x2="84.9" y2="857" stroke="#000" stroke-width="1.3"/>
<line x1="80.9" y1="809.6" x2="84.9" y2="809.6" stroke="#000" stroke-width="1.3"/>
<line x1="80.9" y1="762.2" x2="84.9" y2="762.2" stroke="#000" stroke-width="1.3"/>
<line x1="80.9" y1="714.8" x2="84.9" y2="714.8" stroke="#000" stroke-width="1.3"/>
<line x1="80.9" y1="667.4" x2="84.9" y2="667.4" stroke="#000" stroke-width="1.3"/>
<line x1="80.9" y1="620" x2="84.9" y2="620" stroke="#000" stroke-width="1.3"/>
<line x1="80.9" y1="572.6" x2="84.9" y2="572.6" stroke="#000" stroke-width="1.3"/>
<line x1="116.3" y1="880.7" x2="116.3" y2="886.7" stroke="#000" stroke-width="1.4"/>
<line x1="179.2" y1="880.7" x2="179.2" y2="886.7" stroke="#000" stroke-width="1.4"/>
<line x1="242.1" y1="880.7" x2="242.1" y2="886.7" stroke="#000" stroke-width="1.4"/>
<line x1="305" y1="880.7" x2="305" y2="886.7" stroke="#000" stroke-width="1.4"/>
<line x1="367.9" y1="880.7" x2="367.9" y2="886.7" stroke="#000" stroke-width="1.4"/>
<line x1="430.8" y1="880.7" x2="430.8" y2="886.7" stroke="#000" stroke-width="1.4"/>
<line x1="493.7" y1="880.7" x2="493.7" y2="886.7" stroke="#000" stroke-width="1.4"/>
<line x1="84.9" y1="880.7" x2="84.9" y2="884.2" stroke="#000" stroke-width="1.3"/>
<line x1="147.75" y1="880.7" x2="147.75" y2="884.2" stroke="#000" stroke-width="1.3"/>
<line x1="210.65" y1="880.7" x2="210.65" y2="884.2" stroke="#000" stroke-width="1.3"/>
<line x1="273.55" y1="880.7" x2="273.55" y2="884.2" stroke="#000" stroke-width="1.3"/>
<line x1="336.45" y1="880.7" x2="336.45" y2="884.2" stroke="#000" stroke-width="1.3"/>
<line x1="399.35" y1="880.7" x2="399.35" y2="884.2" stroke="#000" stroke-width="1.3"/>
<line x1="462.25" y1="880.7" x2="462.25" y2="884.2" stroke="#000" stroke-width="1.3"/>
<line x1="525.2" y1="880.7" x2="525.2" y2="884.2" stroke="#000" stroke-width="1.3"/>
<line x1="128.93" y1="525.6" x2="128.93" y2="529.1" stroke="#000" stroke-width="1.3"/>
<line x1="172.96" y1="525.6" x2="172.96" y2="532.6" stroke="#000" stroke-width="1.3"/>
<line x1="216.99" y1="525.6" x2="216.99" y2="529.1" stroke="#000" stroke-width="1.3"/>
<line x1="261.02" y1="525.6" x2="261.02" y2="532.6" stroke="#000" stroke-width="1.3"/>
<line x1="305.05" y1="525.6" x2="305.05" y2="529.1" stroke="#000" stroke-width="1.3"/>
<line x1="349.08" y1="525.6" x2="349.08" y2="532.6" stroke="#000" stroke-width="1.3"/>
<line x1="393.11" y1="525.6" x2="393.11" y2="529.1" stroke="#000" stroke-width="1.3"/>
<line x1="437.14" y1="525.6" x2="437.14" y2="532.6" stroke="#000" stroke-width="1.3"/>
<line x1="481.17" y1="525.6" x2="481.17" y2="529.1" stroke="#000" stroke-width="1.3"/>
<line x1="521.2" y1="845.19" x2="525.2" y2="845.19" stroke="#000" stroke-width="1.3"/>
<line x1="519.2" y1="809.68" x2="525.2" y2="809.68" stroke="#000" stroke-width="1.3"/>
<line x1="521.2" y1="774.17" x2="525.2" y2="774.17" stroke="#000" stroke-width="1.3"/>
<line x1="519.2" y1="738.66" x2="525.2" y2="738.66" stroke="#000" stroke-width="1.3"/>
<line x1="521.2" y1="703.15" x2="525.2" y2="703.15" stroke="#000" stroke-width="1.3"/>
<line x1="519.2" y1="667.64" x2="525.2" y2="667.64" stroke="#000" stroke-width="1.3"/>
<line x1="521.2" y1="632.13" x2="525.2" y2="632.13" stroke="#000" stroke-width="1.3"/>
<line x1="519.2" y1="596.62" x2="525.2" y2="596.62" stroke="#000" stroke-width="1.3"/>
<line x1="521.2" y1="561.11" x2="525.2" y2="561.11" stroke="#000" stroke-width="1.3"/>
<path d="M116.3 868.38 L179.2 865.06 L242.1 860.56 L305 849.42 L367.9 840.41 L430.8 826.19 L493.7 798.94" fill="none" stroke="#505050" stroke-width="1"/>
<path d="M116.3 768.36 L179.2 758.17 L242.1 757.7 L305 763.38 L367.9 765.75 L430.8 717.88 L493.7 550.8" fill="none" stroke="#c85858" stroke-width="1"/>
<rect x="112.5" y="864.58" width="7.6" height="7.6" fill="#000000"/>
<rect x="175.4" y="861.26" width="7.6" height="7.6" fill="#000000"/>
<rect x="238.3" y="856.76" width="7.6" height="7.6" fill="#000000"/>
<rect x="301.2" y="845.62" width="7.6" height="7.6" fill="#000000"/>
<rect x="364.1" y="836.61" width="7.6" height="7.6" fill="#000000"/>
<rect x="427" y="822.39" width="7.6" height="7.6" fill="#000000"/>
<rect x="489.9" y="795.14" width="7.6" height="7.6" fill="#000000"/>
<circle cx="116.3" cy="768.36" r="4.4" fill="#ff0000"/>
<circle cx="179.2" cy="758.17" r="4.4" fill="#ff0000"/>
<circle cx="242.1" cy="757.7" r="4.4" fill="#ff0000"/>
<circle cx="305" cy="763.38" r="4.4" fill="#ff0000"/>
<circle cx="367.9" cy="765.75" r="4.4" fill="#ff0000"/>
<circle cx="430.8" cy="717.88" r="4.4" fill="#ff0000"/>
<circle cx="493.7" cy="550.8" r="4.4" fill="#ff0000"/>
<rect x="84.9" y="525.6" width="440.3" height="355.1" fill="none" stroke="#000" stroke-width="1.5"/>
<rect x="142.3" y="602.8" width="146.3" height="44.1" fill="#fff" stroke="#707070" stroke-width="1.1"/>
<line x1="153.5" y1="616" x2="192.6" y2="616" stroke="#505050" stroke-width="1"/>
<rect x="169" y="612.2" width="7.6" height="7.6" fill="#000000"/>
<text x="197.6" y="621.03" font-size="16.2" textLength="51.68" lengthAdjust="spacingAndGlyphs">Heroin</text>
<line x1="153.5" y1="637.5" x2="192.6" y2="637.5" stroke="#c85858" stroke-width="1"/>
<circle cx="172.8" cy="637.5" r="4.4" fill="#ff0000"/>
<text x="197.6" y="642.53" font-size="16.2" textLength="86.79" lengthAdjust="spacingAndGlyphs">Non-heroin</text>
<text x="73.3" y="884.97" font-size="16.3" text-anchor="end" textLength="8.61" lengthAdjust="spacingAndGlyphs">0</text>
<text x="73.3" y="837.57" font-size="16.3" text-anchor="end" textLength="17.22" lengthAdjust="spacingAndGlyphs">20</text>
<text x="73.3" y="790.17" font-size="16.3" text-anchor="end" textLength="17.22" lengthAdjust="spacingAndGlyphs">40</text>
<text x="73.3" y="742.77" font-size="16.3" text-anchor="end" textLength="17.22" lengthAdjust="spacingAndGlyphs">60</text>
<text x="73.3" y="695.37" font-size="16.3" text-anchor="end" textLength="17.22" lengthAdjust="spacingAndGlyphs">80</text>
<text x="73.3" y="647.97" font-size="16.3" text-anchor="end" textLength="25.83" lengthAdjust="spacingAndGlyphs">100</text>
<text x="73.3" y="600.57" font-size="16.3" text-anchor="end" textLength="25.83" lengthAdjust="spacingAndGlyphs">120</text>
<text x="73.3" y="553.17" font-size="16.3" text-anchor="end" textLength="25.83" lengthAdjust="spacingAndGlyphs">140</text>
<text x="116.3" y="904.7" font-size="16.3" text-anchor="middle" textLength="34.08" lengthAdjust="spacingAndGlyphs">2010</text>
<text x="179.2" y="904.7" font-size="16.3" text-anchor="middle" textLength="32.94" lengthAdjust="spacingAndGlyphs">2011</text>
<text x="242.1" y="904.7" font-size="16.3" text-anchor="middle" textLength="34.08" lengthAdjust="spacingAndGlyphs">2012</text>
<text x="305" y="904.7" font-size="16.3" text-anchor="middle" textLength="34.08" lengthAdjust="spacingAndGlyphs">2013</text>
<text x="367.9" y="904.7" font-size="16.3" text-anchor="middle" textLength="34.08" lengthAdjust="spacingAndGlyphs">2014</text>
<text x="430.8" y="904.7" font-size="16.3" text-anchor="middle" textLength="34.08" lengthAdjust="spacingAndGlyphs">2015</text>
<text x="493.7" y="904.7" font-size="16.3" text-anchor="middle" textLength="34.08" lengthAdjust="spacingAndGlyphs">2016</text>
<text x="286" y="934.1" font-size="19" textLength="39.4" lengthAdjust="spacingAndGlyphs">Year</text>
<text x="34.6" y="715" font-size="18.6" text-anchor="middle" textLength="39.48" lengthAdjust="spacingAndGlyphs" transform="rotate(-90 34.6 715)">Rate</text>
<text x="65.85" y="960.4" font-size="23" textLength="463.45" lengthAdjust="spacing" stroke="#fff" stroke-width="0.3">(C) Temporal trends for heroin and non-heroin</text>
<text x="109.15" y="986.9" font-size="23" textLength="97.85" lengthAdjust="spacing" stroke="#fff" stroke-width="0.3">poisoning</text>
<line x1="83.4" y1="1350.48" x2="527" y2="1350.48" stroke="#d6d6d6" stroke-width="1" stroke-dasharray="1.2 1.8"/>
<line x1="83.4" y1="1285.44" x2="527" y2="1285.44" stroke="#d6d6d6" stroke-width="1" stroke-dasharray="1.2 1.8"/>
<line x1="83.4" y1="1220.4" x2="527" y2="1220.4" stroke="#d6d6d6" stroke-width="1" stroke-dasharray="1.2 1.8"/>
<line x1="83.4" y1="1155.36" x2="527" y2="1155.36" stroke="#d6d6d6" stroke-width="1" stroke-dasharray="1.2 1.8"/>
<line x1="83.4" y1="1090.32" x2="527" y2="1090.32" stroke="#d6d6d6" stroke-width="1" stroke-dasharray="1.2 1.8"/>
<line x1="146.85" y1="1025.3" x2="146.85" y2="1383" stroke="#d6d6d6" stroke-width="1" stroke-dasharray="1.2 1.8"/>
<line x1="210.35" y1="1025.3" x2="210.35" y2="1383" stroke="#d6d6d6" stroke-width="1" stroke-dasharray="1.2 1.8"/>
<line x1="273.85" y1="1025.3" x2="273.85" y2="1383" stroke="#d6d6d6" stroke-width="1" stroke-dasharray="1.2 1.8"/>
<line x1="337.35" y1="1025.3" x2="337.35" y2="1383" stroke="#d6d6d6" stroke-width="1" stroke-dasharray="1.2 1.8"/>
<line x1="400.85" y1="1025.3" x2="400.85" y2="1383" stroke="#d6d6d6" stroke-width="1" stroke-dasharray="1.2 1.8"/>
<line x1="464.35" y1="1025.3" x2="464.35" y2="1383" stroke="#d6d6d6" stroke-width="1" stroke-dasharray="1.2 1.8"/>
<line x1="83.4" y1="1317.96" x2="527" y2="1317.96" stroke="#a4a4a4" stroke-width="1"/>
<line x1="83.4" y1="1252.92" x2="527" y2="1252.92" stroke="#a4a4a4" stroke-width="1"/>
<line x1="83.4" y1="1187.88" x2="527" y2="1187.88" stroke="#a4a4a4" stroke-width="1"/>
<line x1="83.4" y1="1122.84" x2="527" y2="1122.84" stroke="#a4a4a4" stroke-width="1"/>
<line x1="83.4" y1="1057.8" x2="527" y2="1057.8" stroke="#a4a4a4" stroke-width="1"/>
<line x1="115.1" y1="1025.3" x2="115.1" y2="1383" stroke="#a4a4a4" stroke-width="1"/>
<line x1="178.6" y1="1025.3" x2="178.6" y2="1383" stroke="#a4a4a4" stroke-width="1"/>
<line x1="242.1" y1="1025.3" x2="242.1" y2="1383" stroke="#a4a4a4" stroke-width="1"/>
<line x1="305.6" y1="1025.3" x2="305.6" y2="1383" stroke="#a4a4a4" stroke-width="1"/>
<line x1="369.1" y1="1025.3" x2="369.1" y2="1383" stroke="#a4a4a4" stroke-width="1"/>
<line x1="432.6" y1="1025.3" x2="432.6" y2="1383" stroke="#a4a4a4" stroke-width="1"/>
<line x1="496.1" y1="1025.3" x2="496.1" y2="1383" stroke="#a4a4a4" stroke-width="1"/>
<line x1="75.9" y1="1383" x2="83.4" y2="1383" stroke="#000" stroke-width="1.3"/>
<line x1="75.9" y1="1317.96" x2="83.4" y2="1317.96" stroke="#000" stroke-width="1.3"/>
<line x1="75.9" y1="1252.92" x2="83.4" y2="1252.92" stroke="#000" stroke-width="1.3"/>
<line x1="75.9" y1="1187.88" x2="83.4" y2="1187.88" stroke="#000" stroke-width="1.3"/>
<line x1="75.9" y1="1122.84" x2="83.4" y2="1122.84" stroke="#000" stroke-width="1.3"/>
<line x1="75.9" y1="1057.8" x2="83.4" y2="1057.8" stroke="#000" stroke-width="1.3"/>
<line x1="79.4" y1="1350.48" x2="83.4" y2="1350.48" stroke="#000" stroke-width="1.3"/>
<line x1="79.4" y1="1285.44" x2="83.4" y2="1285.44" stroke="#000" stroke-width="1.3"/>
<line x1="79.4" y1="1220.4" x2="83.4" y2="1220.4" stroke="#000" stroke-width="1.3"/>
<line x1="79.4" y1="1155.36" x2="83.4" y2="1155.36" stroke="#000" stroke-width="1.3"/>
<line x1="79.4" y1="1090.32" x2="83.4" y2="1090.32" stroke="#000" stroke-width="1.3"/>
<line x1="115.1" y1="1383" x2="115.1" y2="1390.2" stroke="#000" stroke-width="1.4"/>
<line x1="178.6" y1="1383" x2="178.6" y2="1390.2" stroke="#000" stroke-width="1.4"/>
<line x1="242.1" y1="1383" x2="242.1" y2="1390.2" stroke="#000" stroke-width="1.4"/>
<line x1="305.6" y1="1383" x2="305.6" y2="1390.2" stroke="#000" stroke-width="1.4"/>
<line x1="369.1" y1="1383" x2="369.1" y2="1390.2" stroke="#000" stroke-width="1.4"/>
<line x1="432.6" y1="1383" x2="432.6" y2="1390.2" stroke="#000" stroke-width="1.4"/>
<line x1="496.1" y1="1383" x2="496.1" y2="1390.2" stroke="#000" stroke-width="1.4"/>
<line x1="115.1" y1="1025.3" x2="115.1" y2="1032.3" stroke="#000" stroke-width="1.3"/>
<line x1="146.85" y1="1025.3" x2="146.85" y2="1028.8" stroke="#000" stroke-width="1.3"/>
<line x1="178.6" y1="1025.3" x2="178.6" y2="1032.3" stroke="#000" stroke-width="1.3"/>
<line x1="210.35" y1="1025.3" x2="210.35" y2="1028.8" stroke="#000" stroke-width="1.3"/>
<line x1="242.1" y1="1025.3" x2="242.1" y2="1032.3" stroke="#000" stroke-width="1.3"/>
<line x1="273.85" y1="1025.3" x2="273.85" y2="1028.8" stroke="#000" stroke-width="1.3"/>
<line x1="305.6" y1="1025.3" x2="305.6" y2="1032.3" stroke="#000" stroke-width="1.3"/>
<line x1="337.35" y1="1025.3" x2="337.35" y2="1028.8" stroke="#000" stroke-width="1.3"/>
<line x1="369.1" y1="1025.3" x2="369.1" y2="1032.3" stroke="#000" stroke-width="1.3"/>
<line x1="400.85" y1="1025.3" x2="400.85" y2="1028.8" stroke="#000" stroke-width="1.3"/>
<line x1="432.6" y1="1025.3" x2="432.6" y2="1032.3" stroke="#000" stroke-width="1.3"/>
<line x1="464.35" y1="1025.3" x2="464.35" y2="1028.8" stroke="#000" stroke-width="1.3"/>
<line x1="496.1" y1="1025.3" x2="496.1" y2="1032.3" stroke="#000" stroke-width="1.3"/>
<line x1="521" y1="1350.48" x2="527" y2="1350.48" stroke="#000" stroke-width="1.3"/>
<line x1="521" y1="1317.96" x2="527" y2="1317.96" stroke="#000" stroke-width="1.3"/>
<line x1="521" y1="1285.44" x2="527" y2="1285.44" stroke="#000" stroke-width="1.3"/>
<line x1="521" y1="1252.92" x2="527" y2="1252.92" stroke="#000" stroke-width="1.3"/>
<line x1="521" y1="1220.4" x2="527" y2="1220.4" stroke="#000" stroke-width="1.3"/>
<line x1="521" y1="1187.88" x2="527" y2="1187.88" stroke="#000" stroke-width="1.3"/>
<line x1="521" y1="1155.36" x2="527" y2="1155.36" stroke="#000" stroke-width="1.3"/>
<line x1="521" y1="1122.84" x2="527" y2="1122.84" stroke="#000" stroke-width="1.3"/>
<line x1="521" y1="1090.32" x2="527" y2="1090.32" stroke="#000" stroke-width="1.3"/>
<line x1="521" y1="1057.8" x2="527" y2="1057.8" stroke="#000" stroke-width="1.3"/>
<path d="M115.1 1331.62 L178.6 1317.57 L242.1 1299.1 L305.6 1254.22 L369.1 1220.73 L432.6 1160.56 L496.1 1053.9" fill="none" stroke="#505050" stroke-width="1"/>
<path d="M115.1 1366.74 L178.6 1361.54 L242.1 1353.08 L305.6 1338.45 L369.1 1320.56 L432.6 1301.7 L496.1 1256.82" fill="none" stroke="#c85858" stroke-width="1"/>
<rect x="111.3" y="1327.82" width="7.6" height="7.6" fill="#000000"/>
<rect x="174.8" y="1313.77" width="7.6" height="7.6" fill="#000000"/>
<rect x="238.3" y="1295.3" width="7.6" height="7.6" fill="#000000"/>
<rect x="301.8" y="1250.42" width="7.6" height="7.6" fill="#000000"/>
<rect x="365.3" y="1216.93" width="7.6" height="7.6" fill="#000000"/>
<rect x="428.8" y="1156.76" width="7.6" height="7.6" fill="#000000"/>
<rect x="492.3" y="1050.1" width="7.6" height="7.6" fill="#000000"/>
<circle cx="115.1" cy="1366.74" r="4.4" fill="#ff0000"/>
<circle cx="178.6" cy="1361.54" r="4.4" fill="#ff0000"/>
<circle cx="242.1" cy="1353.08" r="4.4" fill="#ff0000"/>
<circle cx="305.6" cy="1338.45" r="4.4" fill="#ff0000"/>
<circle cx="369.1" cy="1320.56" r="4.4" fill="#ff0000"/>
<circle cx="432.6" cy="1301.7" r="4.4" fill="#ff0000"/>
<circle cx="496.1" cy="1256.82" r="4.4" fill="#ff0000"/>
<rect x="83.4" y="1025.3" width="443.6" height="357.7" fill="none" stroke="#000" stroke-width="1.5"/>
<rect x="175.7" y="1057" width="124.8" height="47.6" fill="#fff" stroke="#3c3c3c" stroke-width="1.1"/>
<line x1="186" y1="1071.4" x2="227.7" y2="1071.4" stroke="#505050" stroke-width="1"/>
<rect x="203.2" y="1067.6" width="7.6" height="7.6" fill="#000000"/>
<text x="233.6" y="1077.19" font-size="18.3" textLength="39.66" lengthAdjust="spacingAndGlyphs">Male</text>
<line x1="186" y1="1094.2" x2="227.7" y2="1094.2" stroke="#c85858" stroke-width="1"/>
<circle cx="207" cy="1094.2" r="4.4" fill="#ff0000"/>
<text x="233.6" y="1099.99" font-size="18.3" textLength="61.02" lengthAdjust="spacingAndGlyphs">Female</text>
<text x="71.8" y="1387.27" font-size="16.3" text-anchor="end" textLength="8.43" lengthAdjust="spacingAndGlyphs">0</text>
<text x="71.8" y="1322.23" font-size="16.3" text-anchor="end" textLength="16.86" lengthAdjust="spacingAndGlyphs">10</text>
<text x="71.8" y="1257.19" font-size="16.3" text-anchor="end" textLength="16.86" lengthAdjust="spacingAndGlyphs">20</text>
<text x="71.8" y="1192.15" font-size="16.3" text-anchor="end" textLength="16.86" lengthAdjust="spacingAndGlyphs">30</text>
<text x="71.8" y="1127.11" font-size="16.3" text-anchor="end" textLength="16.86" lengthAdjust="spacingAndGlyphs">40</text>
<text x="71.8" y="1062.07" font-size="16.3" text-anchor="end" textLength="16.86" lengthAdjust="spacingAndGlyphs">50</text>
<text x="115.1" y="1406.8" font-size="16.3" text-anchor="middle" textLength="33.72" lengthAdjust="spacingAndGlyphs">2010</text>
<text x="178.6" y="1406.8" font-size="16.3" text-anchor="middle" textLength="32.59" lengthAdjust="spacingAndGlyphs">2011</text>
<text x="242.1" y="1406.8" font-size="16.3" text-anchor="middle" textLength="33.72" lengthAdjust="spacingAndGlyphs">2012</text>
<text x="305.6" y="1406.8" font-size="16.3" text-anchor="middle" textLength="33.72" lengthAdjust="spacingAndGlyphs">2013</text>
<text x="369.1" y="1406.8" font-size="16.3" text-anchor="middle" textLength="33.72" lengthAdjust="spacingAndGlyphs">2014</text>
<text x="432.6" y="1406.8" font-size="16.3" text-anchor="middle" textLength="33.72" lengthAdjust="spacingAndGlyphs">2015</text>
<text x="496.1" y="1406.8" font-size="16.3" text-anchor="middle" textLength="33.72" lengthAdjust="spacingAndGlyphs">2016</text>
<text x="286.1" y="1437" font-size="19.5" textLength="39.7" lengthAdjust="spacingAndGlyphs">Year</text>
<text x="41.1" y="1216.4" font-size="19" text-anchor="middle" textLength="39.38" lengthAdjust="spacingAndGlyphs" transform="rotate(-90 41.1 1216.4)">Rate</text>
<text x="68.25" y="1465.8" font-size="23" textLength="449.15" lengthAdjust="spacing" stroke="#fff" stroke-width="0.3">(D) Heroin Temporal trends by gender group</text>
<line x1="672.3" y1="1382.44" x2="1116.6" y2="1382.44" stroke="#d6d6d6" stroke-width="1" stroke-dasharray="1.2 1.8"/>
<line x1="672.3" y1="1327.36" x2="1116.6" y2="1327.36" stroke="#d6d6d6" stroke-width="1" stroke-dasharray="1.2 1.8"/>
<line x1="672.3" y1="1272.28" x2="1116.6" y2="1272.28" stroke="#d6d6d6" stroke-width="1" stroke-dasharray="1.2 1.8"/>
<line x1="672.3" y1="1217.19" x2="1116.6" y2="1217.19" stroke="#d6d6d6" stroke-width="1" stroke-dasharray="1.2 1.8"/>
<line x1="672.3" y1="1162.11" x2="1116.6" y2="1162.11" stroke="#d6d6d6" stroke-width="1" stroke-dasharray="1.2 1.8"/>
<line x1="672.3" y1="1107.03" x2="1116.6" y2="1107.03" stroke="#d6d6d6" stroke-width="1" stroke-dasharray="1.2 1.8"/>
<line x1="672.3" y1="1051.94" x2="1116.6" y2="1051.94" stroke="#d6d6d6" stroke-width="1" stroke-dasharray="1.2 1.8"/>
<line x1="736.15" y1="1024.4" x2="736.15" y2="1382.3" stroke="#d6d6d6" stroke-width="1" stroke-dasharray="1.2 1.8"/>
<line x1="799.45" y1="1024.4" x2="799.45" y2="1382.3" stroke="#d6d6d6" stroke-width="1" stroke-dasharray="1.2 1.8"/>
<line x1="862.75" y1="1024.4" x2="862.75" y2="1382.3" stroke="#d6d6d6" stroke-width="1" stroke-dasharray="1.2 1.8"/>
<line x1="926.05" y1="1024.4" x2="926.05" y2="1382.3" stroke="#d6d6d6" stroke-width="1" stroke-dasharray="1.2 1.8"/>
<line x1="989.35" y1="1024.4" x2="989.35" y2="1382.3" stroke="#d6d6d6" stroke-width="1" stroke-dasharray="1.2 1.8"/>
<line x1="1052.65" y1="1024.4" x2="1052.65" y2="1382.3" stroke="#d6d6d6" stroke-width="1" stroke-dasharray="1.2 1.8"/>
<line x1="672.3" y1="1354.9" x2="1116.6" y2="1354.9" stroke="#a4a4a4" stroke-width="1"/>
<line x1="672.3" y1="1299.82" x2="1116.6" y2="1299.82" stroke="#a4a4a4" stroke-width="1"/>
<line x1="672.3" y1="1244.73" x2="1116.6" y2="1244.73" stroke="#a4a4a4" stroke-width="1"/>
<line x1="672.3" y1="1189.65" x2="1116.6" y2="1189.65" stroke="#a4a4a4" stroke-width="1"/>
<line x1="672.3" y1="1134.57" x2="1116.6" y2="1134.57" stroke="#a4a4a4" stroke-width="1"/>
<line x1="672.3" y1="1079.48" x2="1116.6" y2="1079.48" stroke="#a4a4a4" stroke-width="1"/>
<line x1="672.3" y1="1024.9" x2="1116.6" y2="1024.9" stroke="#a4a4a4" stroke-width="1"/>
<line x1="704.5" y1="1024.4" x2="704.5" y2="1382.3" stroke="#a4a4a4" stroke-width="1"/>
<line x1="767.8" y1="1024.4" x2="767.8" y2="1382.3" stroke="#a4a4a4" stroke-width="1"/>
<line x1="831.1" y1="1024.4" x2="831.1" y2="1382.3" stroke="#a4a4a4" stroke-width="1"/>
<line x1="894.4" y1="1024.4" x2="894.4" y2="1382.3" stroke="#a4a4a4" stroke-width="1"/>
<line x1="957.7" y1="1024.4" x2="957.7" y2="1382.3" stroke="#a4a4a4" stroke-width="1"/>
<line x1="1021" y1="1024.4" x2="1021" y2="1382.3" stroke="#a4a4a4" stroke-width="1"/>
<line x1="1084.3" y1="1024.4" x2="1084.3" y2="1382.3" stroke="#a4a4a4" stroke-width="1"/>
<line x1="664.8" y1="1354.9" x2="672.3" y2="1354.9" stroke="#000" stroke-width="1.3"/>
<line x1="664.8" y1="1299.82" x2="672.3" y2="1299.82" stroke="#000" stroke-width="1.3"/>
<line x1="664.8" y1="1244.73" x2="672.3" y2="1244.73" stroke="#000" stroke-width="1.3"/>
<line x1="664.8" y1="1189.65" x2="672.3" y2="1189.65" stroke="#000" stroke-width="1.3"/>
<line x1="664.8" y1="1134.57" x2="672.3" y2="1134.57" stroke="#000" stroke-width="1.3"/>
<line x1="664.8" y1="1079.48" x2="672.3" y2="1079.48" stroke="#000" stroke-width="1.3"/>
<line x1="664.8" y1="1024.4" x2="672.3" y2="1024.4" stroke="#000" stroke-width="1.3"/>
<line x1="668.3" y1="1382.44" x2="672.3" y2="1382.44" stroke="#000" stroke-width="1.3"/>
<line x1="668.3" y1="1327.36" x2="672.3" y2="1327.36" stroke="#000" stroke-width="1.3"/>
<line x1="668.3" y1="1272.28" x2="672.3" y2="1272.28" stroke="#000" stroke-width="1.3"/>
<line x1="668.3" y1="1217.19" x2="672.3" y2="1217.19" stroke="#000" stroke-width="1.3"/>
<line x1="668.3" y1="1162.11" x2="672.3" y2="1162.11" stroke="#000" stroke-width="1.3"/>
<line x1="668.3" y1="1107.03" x2="672.3" y2="1107.03" stroke="#000" stroke-width="1.3"/>
<line x1="668.3" y1="1051.94" x2="672.3" y2="1051.94" stroke="#000" stroke-width="1.3"/>
<line x1="704.5" y1="1382.3" x2="704.5" y2="1389.5" stroke="#000" stroke-width="1.4"/>
<line x1="767.8" y1="1382.3" x2="767.8" y2="1389.5" stroke="#000" stroke-width="1.4"/>
<line x1="831.1" y1="1382.3" x2="831.1" y2="1389.5" stroke="#000" stroke-width="1.4"/>
<line x1="894.4" y1="1382.3" x2="894.4" y2="1389.5" stroke="#000" stroke-width="1.4"/>
<line x1="957.7" y1="1382.3" x2="957.7" y2="1389.5" stroke="#000" stroke-width="1.4"/>
<line x1="1021" y1="1382.3" x2="1021" y2="1389.5" stroke="#000" stroke-width="1.4"/>
<line x1="1084.3" y1="1382.3" x2="1084.3" y2="1389.5" stroke="#000" stroke-width="1.4"/>
<line x1="704.5" y1="1024.4" x2="704.5" y2="1031.4" stroke="#000" stroke-width="1.3"/>
<line x1="736.15" y1="1024.4" x2="736.15" y2="1027.9" stroke="#000" stroke-width="1.3"/>
<line x1="767.8" y1="1024.4" x2="767.8" y2="1031.4" stroke="#000" stroke-width="1.3"/>
<line x1="799.45" y1="1024.4" x2="799.45" y2="1027.9" stroke="#000" stroke-width="1.3"/>
<line x1="831.1" y1="1024.4" x2="831.1" y2="1031.4" stroke="#000" stroke-width="1.3"/>
<line x1="862.75" y1="1024.4" x2="862.75" y2="1027.9" stroke="#000" stroke-width="1.3"/>
<line x1="894.4" y1="1024.4" x2="894.4" y2="1031.4" stroke="#000" stroke-width="1.3"/>
<line x1="926.05" y1="1024.4" x2="926.05" y2="1027.9" stroke="#000" stroke-width="1.3"/>
<line x1="957.7" y1="1024.4" x2="957.7" y2="1031.4" stroke="#000" stroke-width="1.3"/>
<line x1="989.35" y1="1024.4" x2="989.35" y2="1027.9" stroke="#000" stroke-width="1.3"/>
<line x1="1021" y1="1024.4" x2="1021" y2="1031.4" stroke="#000" stroke-width="1.3"/>
<line x1="1052.65" y1="1024.4" x2="1052.65" y2="1027.9" stroke="#000" stroke-width="1.3"/>
<line x1="1084.3" y1="1024.4" x2="1084.3" y2="1031.4" stroke="#000" stroke-width="1.3"/>
<line x1="1110.6" y1="1354.88" x2="1116.6" y2="1354.88" stroke="#000" stroke-width="1.3"/>
<line x1="1110.6" y1="1327.34" x2="1116.6" y2="1327.34" stroke="#000" stroke-width="1.3"/>
<line x1="1110.6" y1="1299.8" x2="1116.6" y2="1299.8" stroke="#000" stroke-width="1.3"/>
<line x1="1110.6" y1="1272.26" x2="1116.6" y2="1272.26" stroke="#000" stroke-width="1.3"/>
<line x1="1110.6" y1="1244.72" x2="1116.6" y2="1244.72" stroke="#000" stroke-width="1.3"/>
<line x1="1110.6" y1="1217.18" x2="1116.6" y2="1217.18" stroke="#000" stroke-width="1.3"/>
<line x1="1110.6" y1="1189.64" x2="1116.6" y2="1189.64" stroke="#000" stroke-width="1.3"/>
<line x1="1110.6" y1="1162.1" x2="1116.6" y2="1162.1" stroke="#000" stroke-width="1.3"/>
<line x1="1110.6" y1="1134.56" x2="1116.6" y2="1134.56" stroke="#000" stroke-width="1.3"/>
<line x1="1110.6" y1="1107.02" x2="1116.6" y2="1107.02" stroke="#000" stroke-width="1.3"/>
<line x1="1110.6" y1="1079.48" x2="1116.6" y2="1079.48" stroke="#000" stroke-width="1.3"/>
<line x1="1110.6" y1="1051.94" x2="1116.6" y2="1051.94" stroke="#000" stroke-width="1.3"/>
<path d="M704.5 1334.52 L767.8 1317.44 L831.1 1319.1 L894.4 1326.81 L957.7 1327.36 L1021 1282.74 L1084.3 1122.45" fill="none" stroke="#505050" stroke-width="1"/>
<path d="M704.5 1343.61 L767.8 1336.72 L831.1 1335.35 L894.4 1339.48 L957.7 1342.78 L1021 1279.99 L1084.3 1065.16" fill="none" stroke="#c85858" stroke-width="1"/>
<rect x="700.7" y="1330.72" width="7.6" height="7.6" fill="#000000"/>
<rect x="764" y="1313.64" width="7.6" height="7.6" fill="#000000"/>
<rect x="827.3" y="1315.3" width="7.6" height="7.6" fill="#000000"/>
<rect x="890.6" y="1323.01" width="7.6" height="7.6" fill="#000000"/>
<rect x="953.9" y="1323.56" width="7.6" height="7.6" fill="#000000"/>
<rect x="1017.2" y="1278.94" width="7.6" height="7.6" fill="#000000"/>
<rect x="1080.5" y="1118.65" width="7.6" height="7.6" fill="#000000"/>
<circle cx="704.5" cy="1343.61" r="4.4" fill="#ff0000"/>
<circle cx="767.8" cy="1336.72" r="4.4" fill="#ff0000"/>
<circle cx="831.1" cy="1335.35" r="4.4" fill="#ff0000"/>
<circle cx="894.4" cy="1339.48" r="4.4" fill="#ff0000"/>
<circle cx="957.7" cy="1342.78" r="4.4" fill="#ff0000"/>
<circle cx="1021" cy="1279.99" r="4.4" fill="#ff0000"/>
<circle cx="1084.3" cy="1065.16" r="4.4" fill="#ff0000"/>
<rect x="672.3" y="1024.4" width="444.3" height="357.9" fill="none" stroke="#000" stroke-width="1.5"/>
<rect x="751.5" y="1065" width="125.2" height="47.2" fill="#fff" stroke="#3c3c3c" stroke-width="1.1"/>
<line x1="762.4" y1="1078.8" x2="804.5" y2="1078.8" stroke="#505050" stroke-width="1"/>
<rect x="779.4" y="1075" width="7.6" height="7.6" fill="#000000"/>
<text x="809.5" y="1084.59" font-size="18.3" textLength="39.66" lengthAdjust="spacingAndGlyphs">Male</text>
<line x1="762.4" y1="1102" x2="804.5" y2="1102" stroke="#c85858" stroke-width="1"/>
<circle cx="783.2" cy="1102" r="4.4" fill="#ff0000"/>
<text x="809.5" y="1107.79" font-size="18.3" textLength="61.02" lengthAdjust="spacingAndGlyphs">Female</text>
<text x="660.1" y="1359.17" font-size="16.3" text-anchor="end" textLength="16.86" lengthAdjust="spacingAndGlyphs">20</text>
<text x="660.1" y="1304.09" font-size="16.3" text-anchor="end" textLength="16.86" lengthAdjust="spacingAndGlyphs">30</text>
<text x="660.1" y="1249" font-size="16.3" text-anchor="end" textLength="16.86" lengthAdjust="spacingAndGlyphs">40</text>
<text x="660.1" y="1193.92" font-size="16.3" text-anchor="end" textLength="16.86" lengthAdjust="spacingAndGlyphs">50</text>
<text x="660.1" y="1138.84" font-size="16.3" text-anchor="end" textLength="16.86" lengthAdjust="spacingAndGlyphs">60</text>
<text x="660.1" y="1083.75" font-size="16.3" text-anchor="end" textLength="16.86" lengthAdjust="spacingAndGlyphs">70</text>
<text x="660.1" y="1028.67" font-size="16.3" text-anchor="end" textLength="16.86" lengthAdjust="spacingAndGlyphs">80</text>
<text x="704.5" y="1406.3" font-size="16.3" text-anchor="middle" textLength="33.72" lengthAdjust="spacingAndGlyphs">2010</text>
<text x="767.8" y="1406.3" font-size="16.3" text-anchor="middle" textLength="32.59" lengthAdjust="spacingAndGlyphs">2011</text>
<text x="831.1" y="1406.3" font-size="16.3" text-anchor="middle" textLength="33.72" lengthAdjust="spacingAndGlyphs">2012</text>
<text x="894.4" y="1406.3" font-size="16.3" text-anchor="middle" textLength="33.72" lengthAdjust="spacingAndGlyphs">2013</text>
<text x="957.7" y="1406.3" font-size="16.3" text-anchor="middle" textLength="33.72" lengthAdjust="spacingAndGlyphs">2014</text>
<text x="1021" y="1406.3" font-size="16.3" text-anchor="middle" textLength="33.72" lengthAdjust="spacingAndGlyphs">2015</text>
<text x="1084.3" y="1406.3" font-size="16.3" text-anchor="middle" textLength="33.72" lengthAdjust="spacingAndGlyphs">2016</text>
<text x="874.6" y="1436.2" font-size="19" textLength="40.5" lengthAdjust="spacingAndGlyphs">Year</text>
<text x="630.3" y="1215.6" font-size="19.1" text-anchor="middle" textLength="39.69" lengthAdjust="spacingAndGlyphs" transform="rotate(-90 630.3 1215.6)">Rate</text>
<text x="659.35" y="1468.3" font-size="23" textLength="428.05" lengthAdjust="spacing" stroke="#fff" stroke-width="0.3">(E) Non-heroin Temporal trends by gender</text>
<text x="689.75" y="1495.4" font-size="23" textLength="58.95" lengthAdjust="spacing" stroke="#fff" stroke-width="0.3">group</text>
<line x1="78.2" y1="1859.06" x2="531.7" y2="1859.06" stroke="#d6d6d6" stroke-width="1" stroke-dasharray="1.2 1.8"/>
<line x1="78.2" y1="1785.78" x2="531.7" y2="1785.78" stroke="#d6d6d6" stroke-width="1" stroke-dasharray="1.2 1.8"/>
<line x1="78.2" y1="1712.5" x2="531.7" y2="1712.5" stroke="#d6d6d6" stroke-width="1" stroke-dasharray="1.2 1.8"/>
<line x1="78.2" y1="1639.22" x2="531.7" y2="1639.22" stroke="#d6d6d6" stroke-width="1" stroke-dasharray="1.2 1.8"/>
<line x1="78.2" y1="1565.94" x2="531.7" y2="1565.94" stroke="#d6d6d6" stroke-width="1" stroke-dasharray="1.2 1.8"/>
<line x1="142.5" y1="1529.3" x2="142.5" y2="1895.7" stroke="#d6d6d6" stroke-width="1" stroke-dasharray="1.2 1.8"/>
<line x1="207.3" y1="1529.3" x2="207.3" y2="1895.7" stroke="#d6d6d6" stroke-width="1" stroke-dasharray="1.2 1.8"/>
<line x1="272.1" y1="1529.3" x2="272.1" y2="1895.7" stroke="#d6d6d6" stroke-width="1" stroke-dasharray="1.2 1.8"/>
<line x1="336.9" y1="1529.3" x2="336.9" y2="1895.7" stroke="#d6d6d6" stroke-width="1" stroke-dasharray="1.2 1.8"/>
<line x1="401.7" y1="1529.3" x2="401.7" y2="1895.7" stroke="#d6d6d6" stroke-width="1" stroke-dasharray="1.2 1.8"/>
<line x1="466.5" y1="1529.3" x2="466.5" y2="1895.7" stroke="#d6d6d6" stroke-width="1" stroke-dasharray="1.2 1.8"/>
<line x1="78.2" y1="1822.42" x2="531.7" y2="1822.42" stroke="#a4a4a4" stroke-width="1"/>
<line x1="78.2" y1="1749.14" x2="531.7" y2="1749.14" stroke="#a4a4a4" stroke-width="1"/>
<line x1="78.2" y1="1675.86" x2="531.7" y2="1675.86" stroke="#a4a4a4" stroke-width="1"/>
<line x1="78.2" y1="1602.58" x2="531.7" y2="1602.58" stroke="#a4a4a4" stroke-width="1"/>
<line x1="78.2" y1="1529.8" x2="531.7" y2="1529.8" stroke="#a4a4a4" stroke-width="1"/>
<line x1="110.1" y1="1529.3" x2="110.1" y2="1895.7" stroke="#a4a4a4" stroke-width="1"/>
<line x1="174.9" y1="1529.3" x2="174.9" y2="1895.7" stroke="#a4a4a4" stroke-width="1"/>
<line x1="239.7" y1="1529.3" x2="239.7" y2="1895.7" stroke="#a4a4a4" stroke-width="1"/>
<line x1="304.5" y1="1529.3" x2="304.5" y2="1895.7" stroke="#a4a4a4" stroke-width="1"/>
<line x1="369.3" y1="1529.3" x2="369.3" y2="1895.7" stroke="#a4a4a4" stroke-width="1"/>
<line x1="434.1" y1="1529.3" x2="434.1" y2="1895.7" stroke="#a4a4a4" stroke-width="1"/>
<line x1="498.9" y1="1529.3" x2="498.9" y2="1895.7" stroke="#a4a4a4" stroke-width="1"/>
<line x1="70.7" y1="1895.7" x2="78.2" y2="1895.7" stroke="#000" stroke-width="1.3"/>
<line x1="70.7" y1="1822.42" x2="78.2" y2="1822.42" stroke="#000" stroke-width="1.3"/>
<line x1="70.7" y1="1749.14" x2="78.2" y2="1749.14" stroke="#000" stroke-width="1.3"/>
<line x1="70.7" y1="1675.86" x2="78.2" y2="1675.86" stroke="#000" stroke-width="1.3"/>
<line x1="70.7" y1="1602.58" x2="78.2" y2="1602.58" stroke="#000" stroke-width="1.3"/>
<line x1="70.7" y1="1529.3" x2="78.2" y2="1529.3" stroke="#000" stroke-width="1.3"/>
<line x1="74.2" y1="1859.06" x2="78.2" y2="1859.06" stroke="#000" stroke-width="1.3"/>
<line x1="74.2" y1="1785.78" x2="78.2" y2="1785.78" stroke="#000" stroke-width="1.3"/>
<line x1="74.2" y1="1712.5" x2="78.2" y2="1712.5" stroke="#000" stroke-width="1.3"/>
<line x1="74.2" y1="1639.22" x2="78.2" y2="1639.22" stroke="#000" stroke-width="1.3"/>
<line x1="74.2" y1="1565.94" x2="78.2" y2="1565.94" stroke="#000" stroke-width="1.3"/>
<line x1="110.1" y1="1895.7" x2="110.1" y2="1902.9" stroke="#000" stroke-width="1.4"/>
<line x1="174.9" y1="1895.7" x2="174.9" y2="1902.9" stroke="#000" stroke-width="1.4"/>
<line x1="239.7" y1="1895.7" x2="239.7" y2="1902.9" stroke="#000" stroke-width="1.4"/>
<line x1="304.5" y1="1895.7" x2="304.5" y2="1902.9" stroke="#000" stroke-width="1.4"/>
<line x1="369.3" y1="1895.7" x2="369.3" y2="1902.9" stroke="#000" stroke-width="1.4"/>
<line x1="434.1" y1="1895.7" x2="434.1" y2="1902.9" stroke="#000" stroke-width="1.4"/>
<line x1="498.9" y1="1895.7" x2="498.9" y2="1902.9" stroke="#000" stroke-width="1.4"/>
<line x1="110.1" y1="1529.3" x2="110.1" y2="1536.3" stroke="#000" stroke-width="1.3"/>
<line x1="142.5" y1="1529.3" x2="142.5" y2="1532.8" stroke="#000" stroke-width="1.3"/>
<line x1="174.9" y1="1529.3" x2="174.9" y2="1536.3" stroke="#000" stroke-width="1.3"/>
<line x1="207.3" y1="1529.3" x2="207.3" y2="1532.8" stroke="#000" stroke-width="1.3"/>
<line x1="239.7" y1="1529.3" x2="239.7" y2="1536.3" stroke="#000" stroke-width="1.3"/>
<line x1="272.1" y1="1529.3" x2="272.1" y2="1532.8" stroke="#000" stroke-width="1.3"/>
<line x1="304.5" y1="1529.3" x2="304.5" y2="1536.3" stroke="#000" stroke-width="1.3"/>
<line x1="336.9" y1="1529.3" x2="336.9" y2="1532.8" stroke="#000" stroke-width="1.3"/>
<line x1="369.3" y1="1529.3" x2="369.3" y2="1536.3" stroke="#000" stroke-width="1.3"/>
<line x1="401.7" y1="1529.3" x2="401.7" y2="1532.8" stroke="#000" stroke-width="1.3"/>
<line x1="434.1" y1="1529.3" x2="434.1" y2="1536.3" stroke="#000" stroke-width="1.3"/>
<line x1="466.5" y1="1529.3" x2="466.5" y2="1532.8" stroke="#000" stroke-width="1.3"/>
<line x1="498.9" y1="1529.3" x2="498.9" y2="1536.3" stroke="#000" stroke-width="1.3"/>
<line x1="525.7" y1="1859.06" x2="531.7" y2="1859.06" stroke="#000" stroke-width="1.3"/>
<line x1="525.7" y1="1822.42" x2="531.7" y2="1822.42" stroke="#000" stroke-width="1.3"/>
<line x1="525.7" y1="1785.78" x2="531.7" y2="1785.78" stroke="#000" stroke-width="1.3"/>
<line x1="525.7" y1="1749.14" x2="531.7" y2="1749.14" stroke="#000" stroke-width="1.3"/>
<line x1="525.7" y1="1712.5" x2="531.7" y2="1712.5" stroke="#000" stroke-width="1.3"/>
<line x1="525.7" y1="1675.86" x2="531.7" y2="1675.86" stroke="#000" stroke-width="1.3"/>
<line x1="525.7" y1="1639.22" x2="531.7" y2="1639.22" stroke="#000" stroke-width="1.3"/>
<line x1="525.7" y1="1602.58" x2="531.7" y2="1602.58" stroke="#000" stroke-width="1.3"/>
<line x1="525.7" y1="1565.94" x2="531.7" y2="1565.94" stroke="#000" stroke-width="1.3"/>
<path d="M110.1 1853.64 L174.9 1836.78 L239.7 1815.82 L304.5 1774.06 L369.3 1731.55 L434.1 1667.8 L498.9 1571.8" fill="none" stroke="#505050" stroke-width="1"/>
<path d="M110.1 1871.22 L174.9 1873.42 L239.7 1868 L304.5 1853.93 L369.3 1845.87 L434.1 1813.99 L498.9 1754.64" fill="none" stroke="#c85858" stroke-width="1"/>
<path d="M110.1 1868.73 L174.9 1860.53 L239.7 1850.27 L304.5 1827.55 L369.3 1823.15 L434.1 1828.28 L498.9 1764.53" fill="none" stroke="#d860d8" stroke-width="1"/>
<rect x="106.3" y="1849.84" width="7.6" height="7.6" fill="#000000"/>
<rect x="171.1" y="1832.98" width="7.6" height="7.6" fill="#000000"/>
<rect x="235.9" y="1812.02" width="7.6" height="7.6" fill="#000000"/>
<rect x="300.7" y="1770.26" width="7.6" height="7.6" fill="#000000"/>
<rect x="365.5" y="1727.75" width="7.6" height="7.6" fill="#000000"/>
<rect x="430.3" y="1664" width="7.6" height="7.6" fill="#000000"/>
<rect x="495.1" y="1568" width="7.6" height="7.6" fill="#000000"/>
<circle cx="110.1" cy="1871.22" r="4.4" fill="#ff0000"/>
<circle cx="174.9" cy="1873.42" r="4.4" fill="#ff0000"/>
<circle cx="239.7" cy="1868" r="4.4" fill="#ff0000"/>
<circle cx="304.5" cy="1853.93" r="4.4" fill="#ff0000"/>
<circle cx="369.3" cy="1845.87" r="4.4" fill="#ff0000"/>
<circle cx="434.1" cy="1813.99" r="4.4" fill="#ff0000"/>
<circle cx="498.9" cy="1754.64" r="4.4" fill="#ff0000"/>
<path d="M110.1 1874.23L115.6 1864.61L104.6 1864.61Z" fill="#ff00ff"/>
<path d="M174.9 1866.03L180.4 1856.4L169.4 1856.4Z" fill="#ff00ff"/>
<path d="M239.7 1855.77L245.2 1846.14L234.2 1846.14Z" fill="#ff00ff"/>
<path d="M304.5 1833.05L310 1823.42L299 1823.42Z" fill="#ff00ff"/>
<path d="M369.3 1828.65L374.8 1819.03L363.8 1819.03Z" fill="#ff00ff"/>
<path d="M434.1 1833.78L439.6 1824.16L428.6 1824.16Z" fill="#ff00ff"/>
<path d="M498.9 1770.03L504.4 1760.4L493.4 1760.4Z" fill="#ff00ff"/>
<rect x="78.2" y="1529.3" width="453.5" height="366.4" fill="none" stroke="#000" stroke-width="1.5"/>
<rect x="81.2" y="1534.3" width="319.3" height="73.5" fill="#fff" stroke="#3c3c3c" stroke-width="1.1"/>
<line x1="85.4" y1="1547.9" x2="127.5" y2="1547.9" stroke="#505050" stroke-width="1"/>
<rect x="102.6" y="1544.1" width="7.6" height="7.6" fill="#000000"/>
<text x="133.3" y="1554.05" font-size="19.3" textLength="167.13" lengthAdjust="spacingAndGlyphs">Non Hispanic-White</text>
<line x1="85.4" y1="1570.9" x2="127.5" y2="1570.9" stroke="#c85858" stroke-width="1"/>
<circle cx="106.4" cy="1570.9" r="4.4" fill="#ff0000"/>
<text x="133.3" y="1577.05" font-size="19.3" textLength="261.74" lengthAdjust="spacingAndGlyphs">Non Hispanic-African American</text>
<line x1="85.4" y1="1594.9" x2="127.5" y2="1594.9" stroke="#d860d8" stroke-width="1"/>
<path d="M106.4 1600.4L111.9 1590.78L100.9 1590.78Z" fill="#ff00ff"/>
<text x="133.3" y="1601.05" font-size="19.3" textLength="72.53" lengthAdjust="spacingAndGlyphs">Hispanic</text>
<text x="65.6" y="1899.97" font-size="16.3" text-anchor="end" textLength="8.79" lengthAdjust="spacingAndGlyphs">0</text>
<text x="65.6" y="1826.69" font-size="16.3" text-anchor="end" textLength="17.58" lengthAdjust="spacingAndGlyphs">10</text>
<text x="65.6" y="1753.41" font-size="16.3" text-anchor="end" textLength="17.58" lengthAdjust="spacingAndGlyphs">20</text>
<text x="65.6" y="1680.13" font-size="16.3" text-anchor="end" textLength="17.58" lengthAdjust="spacingAndGlyphs">30</text>
<text x="65.6" y="1606.85" font-size="16.3" text-anchor="end" textLength="17.58" lengthAdjust="spacingAndGlyphs">40</text>
<text x="65.6" y="1533.57" font-size="16.3" text-anchor="end" textLength="17.58" lengthAdjust="spacingAndGlyphs">50</text>
<text x="110.1" y="1919.9" font-size="16.3" text-anchor="middle" textLength="33.72" lengthAdjust="spacingAndGlyphs">2010</text>
<text x="174.9" y="1919.9" font-size="16.3" text-anchor="middle" textLength="32.59" lengthAdjust="spacingAndGlyphs">2011</text>
<text x="239.7" y="1919.9" font-size="16.3" text-anchor="middle" textLength="33.72" lengthAdjust="spacingAndGlyphs">2012</text>
<text x="304.5" y="1919.9" font-size="16.3" text-anchor="middle" textLength="33.72" lengthAdjust="spacingAndGlyphs">2013</text>
<text x="369.3" y="1919.9" font-size="16.3" text-anchor="middle" textLength="33.72" lengthAdjust="spacingAndGlyphs">2014</text>
<text x="434.1" y="1919.9" font-size="16.3" text-anchor="middle" textLength="33.72" lengthAdjust="spacingAndGlyphs">2015</text>
<text x="498.9" y="1919.9" font-size="16.3" text-anchor="middle" textLength="33.72" lengthAdjust="spacingAndGlyphs">2016</text>
<text x="284.6" y="1950.2" font-size="19.5" textLength="40.5" lengthAdjust="spacingAndGlyphs">Year</text>
<text x="34.6" y="1725" font-size="19.4" text-anchor="middle" textLength="40.21" lengthAdjust="spacingAndGlyphs" transform="rotate(-90 34.6 1725)">Rate</text>
<text x="56.15" y="1979.9" font-size="23" textLength="488.85" lengthAdjust="spacing" stroke="#fff" stroke-width="0.3">(F) Heroin Temporal trends by race and ethnicity</text>
<line x1="661.9" y1="1875.34" x2="1117.5" y2="1875.34" stroke="#dedede" stroke-width="1" stroke-dasharray="1.2 1.8"/>
<line x1="661.9" y1="1829.43" x2="1117.5" y2="1829.43" stroke="#dedede" stroke-width="1" stroke-dasharray="1.2 1.8"/>
<line x1="661.9" y1="1783.52" x2="1117.5" y2="1783.52" stroke="#dedede" stroke-width="1" stroke-dasharray="1.2 1.8"/>
<line x1="661.9" y1="1737.61" x2="1117.5" y2="1737.61" stroke="#dedede" stroke-width="1" stroke-dasharray="1.2 1.8"/>
<line x1="661.9" y1="1691.69" x2="1117.5" y2="1691.69" stroke="#dedede" stroke-width="1" stroke-dasharray="1.2 1.8"/>
<line x1="661.9" y1="1645.78" x2="1117.5" y2="1645.78" stroke="#dedede" stroke-width="1" stroke-dasharray="1.2 1.8"/>
<line x1="661.9" y1="1599.87" x2="1117.5" y2="1599.87" stroke="#dedede" stroke-width="1" stroke-dasharray="1.2 1.8"/>
<line x1="661.9" y1="1553.96" x2="1117.5" y2="1553.96" stroke="#dedede" stroke-width="1" stroke-dasharray="1.2 1.8"/>
<line x1="727.17" y1="1531" x2="727.17" y2="1898.3" stroke="#dedede" stroke-width="1" stroke-dasharray="1.2 1.8"/>
<line x1="792.33" y1="1531" x2="792.33" y2="1898.3" stroke="#dedede" stroke-width="1" stroke-dasharray="1.2 1.8"/>
<line x1="857.48" y1="1531" x2="857.48" y2="1898.3" stroke="#dedede" stroke-width="1" stroke-dasharray="1.2 1.8"/>
<line x1="922.62" y1="1531" x2="922.62" y2="1898.3" stroke="#dedede" stroke-width="1" stroke-dasharray="1.2 1.8"/>
<line x1="987.78" y1="1531" x2="987.78" y2="1898.3" stroke="#dedede" stroke-width="1" stroke-dasharray="1.2 1.8"/>
<line x1="1052.92" y1="1531" x2="1052.92" y2="1898.3" stroke="#dedede" stroke-width="1" stroke-dasharray="1.2 1.8"/>
<line x1="661.9" y1="1852.39" x2="1117.5" y2="1852.39" stroke="#b4b4b4" stroke-width="1" stroke-dasharray="1.5 1.5"/>
<line x1="661.9" y1="1806.47" x2="1117.5" y2="1806.47" stroke="#b4b4b4" stroke-width="1" stroke-dasharray="1.5 1.5"/>
<line x1="661.9" y1="1760.56" x2="1117.5" y2="1760.56" stroke="#b4b4b4" stroke-width="1" stroke-dasharray="1.5 1.5"/>
<line x1="661.9" y1="1714.65" x2="1117.5" y2="1714.65" stroke="#b4b4b4" stroke-width="1" stroke-dasharray="1.5 1.5"/>
<line x1="661.9" y1="1668.74" x2="1117.5" y2="1668.74" stroke="#b4b4b4" stroke-width="1" stroke-dasharray="1.5 1.5"/>
<line x1="661.9" y1="1622.83" x2="1117.5" y2="1622.83" stroke="#b4b4b4" stroke-width="1" stroke-dasharray="1.5 1.5"/>
<line x1="661.9" y1="1576.91" x2="1117.5" y2="1576.91" stroke="#b4b4b4" stroke-width="1" stroke-dasharray="1.5 1.5"/>
<line x1="661.9" y1="1531.5" x2="1117.5" y2="1531.5" stroke="#b4b4b4" stroke-width="1" stroke-dasharray="1.5 1.5"/>
<line x1="694.6" y1="1531" x2="694.6" y2="1898.3" stroke="#b4b4b4" stroke-width="1" stroke-dasharray="1.5 1.5"/>
<line x1="759.75" y1="1531" x2="759.75" y2="1898.3" stroke="#b4b4b4" stroke-width="1" stroke-dasharray="1.5 1.5"/>
<line x1="824.9" y1="1531" x2="824.9" y2="1898.3" stroke="#b4b4b4" stroke-width="1" stroke-dasharray="1.5 1.5"/>
<line x1="890.05" y1="1531" x2="890.05" y2="1898.3" stroke="#b4b4b4" stroke-width="1" stroke-dasharray="1.5 1.5"/>
<line x1="955.2" y1="1531" x2="955.2" y2="1898.3" stroke="#b4b4b4" stroke-width="1" stroke-dasharray="1.5 1.5"/>
<line x1="1020.35" y1="1531" x2="1020.35" y2="1898.3" stroke="#b4b4b4" stroke-width="1" stroke-dasharray="1.5 1.5"/>
<line x1="1085.5" y1="1531" x2="1085.5" y2="1898.3" stroke="#b4b4b4" stroke-width="1" stroke-dasharray="1.5 1.5"/>
<line x1="654.4" y1="1898.3" x2="661.9" y2="1898.3" stroke="#000" stroke-width="1.3"/>
<line x1="654.4" y1="1852.39" x2="661.9" y2="1852.39" stroke="#000" stroke-width="1.3"/>
<line x1="654.4" y1="1806.47" x2="661.9" y2="1806.47" stroke="#000" stroke-width="1.3"/>
<line x1="654.4" y1="1760.56" x2="661.9" y2="1760.56" stroke="#000" stroke-width="1.3"/>
<line x1="654.4" y1="1714.65" x2="661.9" y2="1714.65" stroke="#000" stroke-width="1.3"/>
<line x1="654.4" y1="1668.74" x2="661.9" y2="1668.74" stroke="#000" stroke-width="1.3"/>
<line x1="654.4" y1="1622.83" x2="661.9" y2="1622.83" stroke="#000" stroke-width="1.3"/>
<line x1="654.4" y1="1576.91" x2="661.9" y2="1576.91" stroke="#000" stroke-width="1.3"/>
<line x1="654.4" y1="1531" x2="661.9" y2="1531" stroke="#000" stroke-width="1.3"/>
<line x1="657.9" y1="1875.34" x2="661.9" y2="1875.34" stroke="#000" stroke-width="1.3"/>
<line x1="657.9" y1="1829.43" x2="661.9" y2="1829.43" stroke="#000" stroke-width="1.3"/>
<line x1="657.9" y1="1783.52" x2="661.9" y2="1783.52" stroke="#000" stroke-width="1.3"/>
<line x1="657.9" y1="1737.61" x2="661.9" y2="1737.61" stroke="#000" stroke-width="1.3"/>
<line x1="657.9" y1="1691.69" x2="661.9" y2="1691.69" stroke="#000" stroke-width="1.3"/>
<line x1="657.9" y1="1645.78" x2="661.9" y2="1645.78" stroke="#000" stroke-width="1.3"/>
<line x1="657.9" y1="1599.87" x2="661.9" y2="1599.87" stroke="#000" stroke-width="1.3"/>
<line x1="657.9" y1="1553.96" x2="661.9" y2="1553.96" stroke="#000" stroke-width="1.3"/>
<line x1="694.6" y1="1898.3" x2="694.6" y2="1905.5" stroke="#000" stroke-width="1.4"/>
<line x1="759.75" y1="1898.3" x2="759.75" y2="1905.5" stroke="#000" stroke-width="1.4"/>
<line x1="824.9" y1="1898.3" x2="824.9" y2="1905.5" stroke="#000" stroke-width="1.4"/>
<line x1="890.05" y1="1898.3" x2="890.05" y2="1905.5" stroke="#000" stroke-width="1.4"/>
<line x1="955.2" y1="1898.3" x2="955.2" y2="1905.5" stroke="#000" stroke-width="1.4"/>
<line x1="1020.35" y1="1898.3" x2="1020.35" y2="1905.5" stroke="#000" stroke-width="1.4"/>
<line x1="1085.5" y1="1898.3" x2="1085.5" y2="1905.5" stroke="#000" stroke-width="1.4"/>
<line x1="707.46" y1="1531" x2="707.46" y2="1534.5" stroke="#000" stroke-width="1.3"/>
<line x1="753.02" y1="1531" x2="753.02" y2="1538" stroke="#000" stroke-width="1.3"/>
<line x1="798.58" y1="1531" x2="798.58" y2="1534.5" stroke="#000" stroke-width="1.3"/>
<line x1="844.14" y1="1531" x2="844.14" y2="1538" stroke="#000" stroke-width="1.3"/>
<line x1="889.7" y1="1531" x2="889.7" y2="1534.5" stroke="#000" stroke-width="1.3"/>
<line x1="935.26" y1="1531" x2="935.26" y2="1538" stroke="#000" stroke-width="1.3"/>
<line x1="980.82" y1="1531" x2="980.82" y2="1534.5" stroke="#000" stroke-width="1.3"/>
<line x1="1026.38" y1="1531" x2="1026.38" y2="1538" stroke="#000" stroke-width="1.3"/>
<line x1="1071.94" y1="1531" x2="1071.94" y2="1534.5" stroke="#000" stroke-width="1.3"/>
<line x1="1113.5" y1="1861.57" x2="1117.5" y2="1861.57" stroke="#000" stroke-width="1.3"/>
<line x1="1111.5" y1="1824.84" x2="1117.5" y2="1824.84" stroke="#000" stroke-width="1.3"/>
<line x1="1113.5" y1="1788.11" x2="1117.5" y2="1788.11" stroke="#000" stroke-width="1.3"/>
<line x1="1111.5" y1="1751.38" x2="1117.5" y2="1751.38" stroke="#000" stroke-width="1.3"/>
<line x1="1113.5" y1="1714.65" x2="1117.5" y2="1714.65" stroke="#000" stroke-width="1.3"/>
<line x1="1111.5" y1="1677.92" x2="1117.5" y2="1677.92" stroke="#000" stroke-width="1.3"/>
<line x1="1113.5" y1="1641.19" x2="1117.5" y2="1641.19" stroke="#000" stroke-width="1.3"/>
<line x1="1111.5" y1="1604.46" x2="1117.5" y2="1604.46" stroke="#000" stroke-width="1.3"/>
<line x1="1113.5" y1="1567.73" x2="1117.5" y2="1567.73" stroke="#000" stroke-width="1.3"/>
<path d="M694.6 1778.47 L759.75 1766.53 L824.9 1765.61 L890.05 1773.88 L955.2 1773.88 L1020.35 1725.67 L1085.5 1553.04" fill="none" stroke="#505050" stroke-width="1"/>
<path d="M694.6 1811.53 L759.75 1801.88 L824.9 1803.72 L890.05 1803.49 L955.2 1815.66 L1020.35 1755.51 L1085.5 1581.96" fill="none" stroke="#c85858" stroke-width="1"/>
<path d="M694.6 1888.43 L759.75 1887.88 L824.9 1890.59 L890.05 1890.59 L955.2 1891.09 L1020.35 1875.8 L1085.5 1826.68" fill="none" stroke="#4848b8" stroke-width="1"/>
<path d="M694.6 1830.81 L759.75 1831.27 L824.9 1825.3 L890.05 1820.71 L955.2 1828.51 L1020.35 1819.33 L1085.5 1738.07" fill="none" stroke="#d860d8" stroke-width="1"/>
<rect x="690.8" y="1774.67" width="7.6" height="7.6" fill="#000000"/>
<rect x="755.95" y="1762.73" width="7.6" height="7.6" fill="#000000"/>
<rect x="821.1" y="1761.81" width="7.6" height="7.6" fill="#000000"/>
<rect x="886.25" y="1770.08" width="7.6" height="7.6" fill="#000000"/>
<rect x="951.4" y="1770.08" width="7.6" height="7.6" fill="#000000"/>
<rect x="1016.55" y="1721.87" width="7.6" height="7.6" fill="#000000"/>
<rect x="1081.7" y="1549.24" width="7.6" height="7.6" fill="#000000"/>
<circle cx="694.6" cy="1811.53" r="4.4" fill="#ff0000"/>
<circle cx="759.75" cy="1801.88" r="4.4" fill="#ff0000"/>
<circle cx="824.9" cy="1803.72" r="4.4" fill="#ff0000"/>
<circle cx="890.05" cy="1803.49" r="4.4" fill="#ff0000"/>
<circle cx="955.2" cy="1815.66" r="4.4" fill="#ff0000"/>
<circle cx="1020.35" cy="1755.51" r="4.4" fill="#ff0000"/>
<circle cx="1085.5" cy="1581.96" r="4.4" fill="#ff0000"/>
<path d="M694.6 1882.93L700.1 1892.55L689.1 1892.55Z" fill="#0000ff"/>
<path d="M759.75 1882.38L765.25 1892L754.25 1892Z" fill="#0000ff"/>
<path d="M824.9 1885.09L830.4 1894.71L819.4 1894.71Z" fill="#0000ff"/>
<path d="M890.05 1885.09L895.55 1894.71L884.55 1894.71Z" fill="#0000ff"/>
<path d="M955.2 1885.59L960.7 1895.22L949.7 1895.22Z" fill="#0000ff"/>
<path d="M1020.35 1870.3L1025.85 1879.93L1014.85 1879.93Z" fill="#0000ff"/>
<path d="M1085.5 1821.18L1091 1830.8L1080 1830.8Z" fill="#0000ff"/>
<path d="M694.6 1836.31L700.1 1826.68L689.1 1826.68Z" fill="#ff00ff"/>
<path d="M759.75 1836.77L765.25 1827.14L754.25 1827.14Z" fill="#ff00ff"/>
<path d="M824.9 1830.8L830.4 1821.17L819.4 1821.17Z" fill="#ff00ff"/>
<path d="M890.05 1826.21L895.55 1816.58L884.55 1816.58Z" fill="#ff00ff"/>
<path d="M955.2 1834.01L960.7 1824.39L949.7 1824.39Z" fill="#ff00ff"/>
<path d="M1020.35 1824.83L1025.85 1815.21L1014.85 1815.21Z" fill="#ff00ff"/>
<path d="M1085.5 1743.57L1091 1733.94L1080 1733.94Z" fill="#ff00ff"/>
<rect x="661.9" y="1531" width="455.6" height="367.3" fill="none" stroke="#000" stroke-width="1.5"/>
<rect x="670.5" y="1542.9" width="317.9" height="91.4" fill="#fff" stroke="#3c3c3c" stroke-width="1.1"/>
<line x1="683.7" y1="1557" x2="723.3" y2="1557" stroke="#505050" stroke-width="1"/>
<rect x="699.7" y="1553.2" width="7.6" height="7.6" fill="#000000"/>
<text x="729.6" y="1562.68" font-size="18" textLength="160.64" lengthAdjust="spacingAndGlyphs">Non Hispanic-White</text>
<line x1="683.7" y1="1579.8" x2="723.3" y2="1579.8" stroke="#c85858" stroke-width="1"/>
<circle cx="703.5" cy="1579.8" r="4.4" fill="#ff0000"/>
<text x="729.6" y="1585.48" font-size="18" textLength="251.58" lengthAdjust="spacingAndGlyphs">Non Hispanic-African American</text>
<line x1="683.7" y1="1602.1" x2="723.3" y2="1602.1" stroke="#4848b8" stroke-width="1"/>
<path d="M703.5 1596.6L709 1606.22L698 1606.22Z" fill="#0000ff"/>
<text x="729.6" y="1607.78" font-size="18" textLength="159.65" lengthAdjust="spacingAndGlyphs">Non Hispanic-Asian</text>
<line x1="683.7" y1="1624.4" x2="723.3" y2="1624.4" stroke="#d860d8" stroke-width="1"/>
<path d="M703.5 1629.9L709 1620.28L698 1620.28Z" fill="#ff00ff"/>
<text x="729.6" y="1630.08" font-size="18" textLength="69.72" lengthAdjust="spacingAndGlyphs">Hispanic</text>
<text x="650.7" y="1902.57" font-size="16.3" text-anchor="end" textLength="8.79" lengthAdjust="spacingAndGlyphs">0</text>
<text x="650.7" y="1856.66" font-size="16.3" text-anchor="end" textLength="17.58" lengthAdjust="spacingAndGlyphs">10</text>
<text x="650.7" y="1810.75" font-size="16.3" text-anchor="end" textLength="17.58" lengthAdjust="spacingAndGlyphs">20</text>
<text x="650.7" y="1764.83" font-size="16.3" text-anchor="end" textLength="17.58" lengthAdjust="spacingAndGlyphs">30</text>
<text x="650.7" y="1718.92" font-size="16.3" text-anchor="end" textLength="17.58" lengthAdjust="spacingAndGlyphs">40</text>
<text x="650.7" y="1673.01" font-size="16.3" text-anchor="end" textLength="17.58" lengthAdjust="spacingAndGlyphs">50</text>
<text x="650.7" y="1627.1" font-size="16.3" text-anchor="end" textLength="17.58" lengthAdjust="spacingAndGlyphs">60</text>
<text x="650.7" y="1581.18" font-size="16.3" text-anchor="end" textLength="17.58" lengthAdjust="spacingAndGlyphs">70</text>
<text x="650.7" y="1535.27" font-size="16.3" text-anchor="end" textLength="17.58" lengthAdjust="spacingAndGlyphs">80</text>
<text x="694.6" y="1923" font-size="16.3" text-anchor="middle" textLength="33.72" lengthAdjust="spacingAndGlyphs">2010</text>
<text x="759.75" y="1923" font-size="16.3" text-anchor="middle" textLength="32.59" lengthAdjust="spacingAndGlyphs">2011</text>
<text x="824.9" y="1923" font-size="16.3" text-anchor="middle" textLength="33.72" lengthAdjust="spacingAndGlyphs">2012</text>
<text x="890.05" y="1923" font-size="16.3" text-anchor="middle" textLength="33.72" lengthAdjust="spacingAndGlyphs">2013</text>
<text x="955.2" y="1923" font-size="16.3" text-anchor="middle" textLength="33.72" lengthAdjust="spacingAndGlyphs">2014</text>
<text x="1020.35" y="1923" font-size="16.3" text-anchor="middle" textLength="33.72" lengthAdjust="spacingAndGlyphs">2015</text>
<text x="1085.5" y="1923" font-size="16.3" text-anchor="middle" textLength="33.72" lengthAdjust="spacingAndGlyphs">2016</text>
<text x="869.9" y="1953.5" font-size="19.5" textLength="40.9" lengthAdjust="spacingAndGlyphs">Year</text>
<text x="618.5" y="1727" font-size="19.8" text-anchor="middle" textLength="40.21" lengthAdjust="spacingAndGlyphs" transform="rotate(-90 618.5 1727)">Rate</text>
<text x="644.05" y="1979.9" font-size="23" textLength="448.95" lengthAdjust="spacing" stroke="#fff" stroke-width="0.3">(G) Non-heroin Temporal trends by race and</text>
<text x="680.45" y="2007.5" font-size="23" textLength="82.55" lengthAdjust="spacing" stroke="#fff" stroke-width="0.3">ethnicity</text>
<line x1="78.7" y1="2363.42" x2="530.5" y2="2363.42" stroke="#d6d6d6" stroke-width="1" stroke-dasharray="1.2 1.8"/>
<line x1="78.7" y1="2317.88" x2="530.5" y2="2317.88" stroke="#d6d6d6" stroke-width="1" stroke-dasharray="1.2 1.8"/>
<line x1="78.7" y1="2272.32" x2="530.5" y2="2272.32" stroke="#d6d6d6" stroke-width="1" stroke-dasharray="1.2 1.8"/>
<line x1="78.7" y1="2226.78" x2="530.5" y2="2226.78" stroke="#d6d6d6" stroke-width="1" stroke-dasharray="1.2 1.8"/>
<line x1="78.7" y1="2181.22" x2="530.5" y2="2181.22" stroke="#d6d6d6" stroke-width="1" stroke-dasharray="1.2 1.8"/>
<line x1="78.7" y1="2135.67" x2="530.5" y2="2135.67" stroke="#d6d6d6" stroke-width="1" stroke-dasharray="1.2 1.8"/>
<line x1="78.7" y1="2090.12" x2="530.5" y2="2090.12" stroke="#d6d6d6" stroke-width="1" stroke-dasharray="1.2 1.8"/>
<line x1="78.7" y1="2044.58" x2="530.5" y2="2044.58" stroke="#d6d6d6" stroke-width="1" stroke-dasharray="1.2 1.8"/>
<line x1="142.88" y1="2021.8" x2="142.88" y2="2386.2" stroke="#d6d6d6" stroke-width="1" stroke-dasharray="1.2 1.8"/>
<line x1="207.42" y1="2021.8" x2="207.42" y2="2386.2" stroke="#d6d6d6" stroke-width="1" stroke-dasharray="1.2 1.8"/>
<line x1="271.98" y1="2021.8" x2="271.98" y2="2386.2" stroke="#d6d6d6" stroke-width="1" stroke-dasharray="1.2 1.8"/>
<line x1="336.52" y1="2021.8" x2="336.52" y2="2386.2" stroke="#d6d6d6" stroke-width="1" stroke-dasharray="1.2 1.8"/>
<line x1="401.07" y1="2021.8" x2="401.07" y2="2386.2" stroke="#d6d6d6" stroke-width="1" stroke-dasharray="1.2 1.8"/>
<line x1="465.62" y1="2021.8" x2="465.62" y2="2386.2" stroke="#d6d6d6" stroke-width="1" stroke-dasharray="1.2 1.8"/>
<line x1="78.7" y1="2340.65" x2="530.5" y2="2340.65" stroke="#a4a4a4" stroke-width="1"/>
<line x1="78.7" y1="2295.1" x2="530.5" y2="2295.1" stroke="#a4a4a4" stroke-width="1"/>
<line x1="78.7" y1="2249.55" x2="530.5" y2="2249.55" stroke="#a4a4a4" stroke-width="1"/>
<line x1="78.7" y1="2204" x2="530.5" y2="2204" stroke="#a4a4a4" stroke-width="1"/>
<line x1="78.7" y1="2158.45" x2="530.5" y2="2158.45" stroke="#a4a4a4" stroke-width="1"/>
<line x1="78.7" y1="2112.9" x2="530.5" y2="2112.9" stroke="#a4a4a4" stroke-width="1"/>
<line x1="78.7" y1="2067.35" x2="530.5" y2="2067.35" stroke="#a4a4a4" stroke-width="1"/>
<line x1="78.7" y1="2022.3" x2="530.5" y2="2022.3" stroke="#a4a4a4" stroke-width="1"/>
<line x1="110.6" y1="2021.8" x2="110.6" y2="2386.2" stroke="#a4a4a4" stroke-width="1"/>
<line x1="175.15" y1="2021.8" x2="175.15" y2="2386.2" stroke="#a4a4a4" stroke-width="1"/>
<line x1="239.7" y1="2021.8" x2="239.7" y2="2386.2" stroke="#a4a4a4" stroke-width="1"/>
<line x1="304.25" y1="2021.8" x2="304.25" y2="2386.2" stroke="#a4a4a4" stroke-width="1"/>
<line x1="368.8" y1="2021.8" x2="368.8" y2="2386.2" stroke="#a4a4a4" stroke-width="1"/>
<line x1="433.35" y1="2021.8" x2="433.35" y2="2386.2" stroke="#a4a4a4" stroke-width="1"/>
<line x1="497.9" y1="2021.8" x2="497.9" y2="2386.2" stroke="#a4a4a4" stroke-width="1"/>
<line x1="71.2" y1="2386.2" x2="78.7" y2="2386.2" stroke="#000" stroke-width="1.3"/>
<line x1="71.2" y1="2340.65" x2="78.7" y2="2340.65" stroke="#000" stroke-width="1.3"/>
<line x1="71.2" y1="2295.1" x2="78.7" y2="2295.1" stroke="#000" stroke-width="1.3"/>
<line x1="71.2" y1="2249.55" x2="78.7" y2="2249.55" stroke="#000" stroke-width="1.3"/>
<line x1="71.2" y1="2204" x2="78.7" y2="2204" stroke="#000" stroke-width="1.3"/>
<line x1="71.2" y1="2158.45" x2="78.7" y2="2158.45" stroke="#000" stroke-width="1.3"/>
<line x1="71.2" y1="2112.9" x2="78.7" y2="2112.9" stroke="#000" stroke-width="1.3"/>
<line x1="71.2" y1="2067.35" x2="78.7" y2="2067.35" stroke="#000" stroke-width="1.3"/>
<line x1="71.2" y1="2021.8" x2="78.7" y2="2021.8" stroke="#000" stroke-width="1.3"/>
<line x1="74.7" y1="2363.42" x2="78.7" y2="2363.42" stroke="#000" stroke-width="1.3"/>
<line x1="74.7" y1="2317.88" x2="78.7" y2="2317.88" stroke="#000" stroke-width="1.3"/>
<line x1="74.7" y1="2272.32" x2="78.7" y2="2272.32" stroke="#000" stroke-width="1.3"/>
<line x1="74.7" y1="2226.78" x2="78.7" y2="2226.78" stroke="#000" stroke-width="1.3"/>
<line x1="74.7" y1="2181.22" x2="78.7" y2="2181.22" stroke="#000" stroke-width="1.3"/>
<line x1="74.7" y1="2135.67" x2="78.7" y2="2135.67" stroke="#000" stroke-width="1.3"/>
<line x1="74.7" y1="2090.12" x2="78.7" y2="2090.12" stroke="#000" stroke-width="1.3"/>
<line x1="74.7" y1="2044.58" x2="78.7" y2="2044.58" stroke="#000" stroke-width="1.3"/>
<line x1="110.6" y1="2386.2" x2="110.6" y2="2393.4" stroke="#000" stroke-width="1.4"/>
<line x1="175.15" y1="2386.2" x2="175.15" y2="2393.4" stroke="#000" stroke-width="1.4"/>
<line x1="239.7" y1="2386.2" x2="239.7" y2="2393.4" stroke="#000" stroke-width="1.4"/>
<line x1="304.25" y1="2386.2" x2="304.25" y2="2393.4" stroke="#000" stroke-width="1.4"/>
<line x1="368.8" y1="2386.2" x2="368.8" y2="2393.4" stroke="#000" stroke-width="1.4"/>
<line x1="433.35" y1="2386.2" x2="433.35" y2="2393.4" stroke="#000" stroke-width="1.4"/>
<line x1="497.9" y1="2386.2" x2="497.9" y2="2393.4" stroke="#000" stroke-width="1.4"/>
<line x1="110.6" y1="2021.8" x2="110.6" y2="2028.8" stroke="#000" stroke-width="1.3"/>
<line x1="142.88" y1="2021.8" x2="142.88" y2="2025.3" stroke="#000" stroke-width="1.3"/>
<line x1="175.15" y1="2021.8" x2="175.15" y2="2028.8" stroke="#000" stroke-width="1.3"/>
<line x1="207.42" y1="2021.8" x2="207.42" y2="2025.3" stroke="#000" stroke-width="1.3"/>
<line x1="239.7" y1="2021.8" x2="239.7" y2="2028.8" stroke="#000" stroke-width="1.3"/>
<line x1="271.98" y1="2021.8" x2="271.98" y2="2025.3" stroke="#000" stroke-width="1.3"/>
<line x1="304.25" y1="2021.8" x2="304.25" y2="2028.8" stroke="#000" stroke-width="1.3"/>
<line x1="336.52" y1="2021.8" x2="336.52" y2="2025.3" stroke="#000" stroke-width="1.3"/>
<line x1="368.8" y1="2021.8" x2="368.8" y2="2028.8" stroke="#000" stroke-width="1.3"/>
<line x1="401.07" y1="2021.8" x2="401.07" y2="2025.3" stroke="#000" stroke-width="1.3"/>
<line x1="433.35" y1="2021.8" x2="433.35" y2="2028.8" stroke="#000" stroke-width="1.3"/>
<line x1="465.62" y1="2021.8" x2="465.62" y2="2025.3" stroke="#000" stroke-width="1.3"/>
<line x1="497.9" y1="2021.8" x2="497.9" y2="2028.8" stroke="#000" stroke-width="1.3"/>
<line x1="524.5" y1="2363.42" x2="530.5" y2="2363.42" stroke="#000" stroke-width="1.3"/>
<line x1="524.5" y1="2340.65" x2="530.5" y2="2340.65" stroke="#000" stroke-width="1.3"/>
<line x1="524.5" y1="2317.88" x2="530.5" y2="2317.88" stroke="#000" stroke-width="1.3"/>
<line x1="524.5" y1="2295.1" x2="530.5" y2="2295.1" stroke="#000" stroke-width="1.3"/>
<line x1="524.5" y1="2272.32" x2="530.5" y2="2272.32" stroke="#000" stroke-width="1.3"/>
<line x1="524.5" y1="2249.55" x2="530.5" y2="2249.55" stroke="#000" stroke-width="1.3"/>
<line x1="524.5" y1="2226.77" x2="530.5" y2="2226.77" stroke="#000" stroke-width="1.3"/>
<line x1="524.5" y1="2204" x2="530.5" y2="2204" stroke="#000" stroke-width="1.3"/>
<line x1="524.5" y1="2181.22" x2="530.5" y2="2181.22" stroke="#000" stroke-width="1.3"/>
<line x1="524.5" y1="2158.45" x2="530.5" y2="2158.45" stroke="#000" stroke-width="1.3"/>
<line x1="524.5" y1="2135.67" x2="530.5" y2="2135.67" stroke="#000" stroke-width="1.3"/>
<line x1="524.5" y1="2112.9" x2="530.5" y2="2112.9" stroke="#000" stroke-width="1.3"/>
<line x1="524.5" y1="2090.12" x2="530.5" y2="2090.12" stroke="#000" stroke-width="1.3"/>
<line x1="524.5" y1="2067.35" x2="530.5" y2="2067.35" stroke="#000" stroke-width="1.3"/>
<line x1="524.5" y1="2044.57" x2="530.5" y2="2044.57" stroke="#000" stroke-width="1.3"/>
<path d="M110.6 2307.85 L175.15 2289.41 L239.7 2283.71 L304.25 2262.53 L368.8 2254.33 L433.35 2226.09 L497.9 2179.63" fill="none" stroke="#c85858" stroke-width="1"/>
<path d="M110.6 2293.73 L175.15 2277.34 L239.7 2267.54 L304.25 2249.32 L368.8 2223.59 L433.35 2170.07 L497.9 2053.91" fill="none" stroke="#4848b8" stroke-width="1"/>
<path d="M110.6 2311.73 L175.15 2303.75 L239.7 2300.79 L304.25 2294.64 L368.8 2285.31 L433.35 2244.31 L497.9 2148.43" fill="none" stroke="#d860d8" stroke-width="1"/>
<path d="M110.6 2294.64 L175.15 2291.91 L239.7 2285.99 L304.25 2280.98 L368.8 2278.25 L433.35 2245.45 L497.9 2142.96" fill="none" stroke="#4c9a4c" stroke-width="1"/>
<path d="M110.6 2311.73 L175.15 2301.48 L239.7 2293.05 L304.25 2290.55 L368.8 2281.43 L433.35 2242.49 L497.9 2096.5" fill="none" stroke="#383878" stroke-width="1"/>
<path d="M110.6 2340.42 L175.15 2337.46 L239.7 2334.27 L304.25 2333.13 L368.8 2328.12 L433.35 2267.54 L497.9 2048.22" fill="none" stroke="#9050e0" stroke-width="1"/>
<circle cx="110.6" cy="2307.85" r="4.93" fill="#ff0000"/>
<circle cx="175.15" cy="2289.41" r="4.93" fill="#ff0000"/>
<circle cx="239.7" cy="2283.71" r="4.93" fill="#ff0000"/>
<circle cx="304.25" cy="2262.53" r="4.93" fill="#ff0000"/>
<circle cx="368.8" cy="2254.33" r="4.93" fill="#ff0000"/>
<circle cx="433.35" cy="2226.09" r="4.93" fill="#ff0000"/>
<circle cx="497.9" cy="2179.63" r="4.93" fill="#ff0000"/>
<path d="M110.6 2287.57L116.76 2298.35L104.44 2298.35Z" fill="#0000ff"/>
<path d="M175.15 2271.18L181.31 2281.96L168.99 2281.96Z" fill="#0000ff"/>
<path d="M239.7 2261.38L245.86 2272.16L233.54 2272.16Z" fill="#0000ff"/>
<path d="M304.25 2243.16L310.41 2253.94L298.09 2253.94Z" fill="#0000ff"/>
<path d="M368.8 2217.43L374.96 2228.21L362.64 2228.21Z" fill="#0000ff"/>
<path d="M433.35 2163.91L439.51 2174.69L427.19 2174.69Z" fill="#0000ff"/>
<path d="M497.9 2047.75L504.06 2058.53L491.74 2058.53Z" fill="#0000ff"/>
<path d="M110.6 2317.89L116.76 2307.11L104.44 2307.11Z" fill="#ff00ff"/>
<path d="M175.15 2309.91L181.31 2299.13L168.99 2299.13Z" fill="#ff00ff"/>
<path d="M239.7 2306.95L245.86 2296.17L233.54 2296.17Z" fill="#ff00ff"/>
<path d="M304.25 2300.8L310.41 2290.02L298.09 2290.02Z" fill="#ff00ff"/>
<path d="M368.8 2291.47L374.96 2280.69L362.64 2280.69Z" fill="#ff00ff"/>
<path d="M433.35 2250.47L439.51 2239.69L427.19 2239.69Z" fill="#ff00ff"/>
<path d="M497.9 2154.59L504.06 2143.81L491.74 2143.81Z" fill="#ff00ff"/>
<path d="M110.6 2288.48L116.76 2294.64L110.6 2300.8L104.44 2294.64Z" fill="#008000"/>
<path d="M175.15 2285.75L181.31 2291.91L175.15 2298.07L168.99 2291.91Z" fill="#008000"/>
<path d="M239.7 2279.83L245.86 2285.99L239.7 2292.15L233.54 2285.99Z" fill="#008000"/>
<path d="M304.25 2274.82L310.41 2280.98L304.25 2287.14L298.09 2280.98Z" fill="#008000"/>
<path d="M368.8 2272.09L374.96 2278.25L368.8 2284.41L362.64 2278.25Z" fill="#008000"/>
<path d="M433.35 2239.29L439.51 2245.45L433.35 2251.61L427.19 2245.45Z" fill="#008000"/>
<path d="M497.9 2136.8L504.06 2142.96L497.9 2149.12L491.74 2142.96Z" fill="#008000"/>
<path d="M104.44 2311.73L115.22 2305.57L115.22 2317.89Z" fill="#000080"/>
<path d="M168.99 2301.48L179.77 2295.32L179.77 2307.64Z" fill="#000080"/>
<path d="M233.54 2293.05L244.32 2286.89L244.32 2299.21Z" fill="#000080"/>
<path d="M298.09 2290.55L308.87 2284.39L308.87 2296.7Z" fill="#000080"/>
<path d="M362.64 2281.43L373.42 2275.28L373.42 2287.59Z" fill="#000080"/>
<path d="M427.19 2242.49L437.97 2236.33L437.97 2248.65Z" fill="#000080"/>
<path d="M491.74 2096.5L502.52 2090.34L502.52 2102.66Z" fill="#000080"/>
<path d="M116.76 2340.42L105.98 2334.26L105.98 2346.58Z" fill="#8000ff"/>
<path d="M181.31 2337.46L170.53 2331.3L170.53 2343.62Z" fill="#8000ff"/>
<path d="M245.86 2334.27L235.08 2328.11L235.08 2340.43Z" fill="#8000ff"/>
<path d="M310.41 2333.13L299.63 2326.97L299.63 2339.29Z" fill="#8000ff"/>
<path d="M374.96 2328.12L364.18 2321.96L364.18 2334.28Z" fill="#8000ff"/>
<path d="M439.51 2267.54L428.73 2261.38L428.73 2273.7Z" fill="#8000ff"/>
<path d="M504.06 2048.22L493.28 2042.06L493.28 2054.38Z" fill="#8000ff"/>
<rect x="78.7" y="2021.8" width="451.8" height="364.4" fill="none" stroke="#000" stroke-width="1.5"/>
<rect x="85.4" y="2029.2" width="110.1" height="154.5" fill="#fff" stroke="#3c3c3c" stroke-width="1.1"/>
<line x1="87.9" y1="2043.3" x2="133.7" y2="2043.3" stroke="#c85858" stroke-width="1"/>
<circle cx="110.6" cy="2043.3" r="4.93" fill="#ff0000"/>
<text x="139.5" y="2049.84" font-size="20.4" textLength="52.17" lengthAdjust="spacingAndGlyphs">15-24</text>
<line x1="87.9" y1="2068" x2="133.7" y2="2068" stroke="#4848b8" stroke-width="1"/>
<path d="M110.6 2061.84L116.76 2072.62L104.44 2072.62Z" fill="#0000ff"/>
<text x="139.5" y="2074.54" font-size="20.4" textLength="52.17" lengthAdjust="spacingAndGlyphs">25-34</text>
<line x1="87.9" y1="2094" x2="133.7" y2="2094" stroke="#d860d8" stroke-width="1"/>
<path d="M110.6 2100.16L116.76 2089.38L104.44 2089.38Z" fill="#ff00ff"/>
<text x="139.5" y="2100.54" font-size="20.4" textLength="52.17" lengthAdjust="spacingAndGlyphs">35-44</text>
<line x1="87.9" y1="2119.3" x2="133.7" y2="2119.3" stroke="#4c9a4c" stroke-width="1"/>
<path d="M110.6 2113.14L116.76 2119.3L110.6 2125.46L104.44 2119.3Z" fill="#008000"/>
<text x="139.5" y="2125.84" font-size="20.4" textLength="52.17" lengthAdjust="spacingAndGlyphs">45-54</text>
<line x1="87.9" y1="2144.3" x2="133.7" y2="2144.3" stroke="#383878" stroke-width="1"/>
<path d="M104.44 2144.3L115.22 2138.14L115.22 2150.46Z" fill="#000080"/>
<text x="139.5" y="2150.84" font-size="20.4" textLength="52.17" lengthAdjust="spacingAndGlyphs">55-64</text>
<line x1="87.9" y1="2169.8" x2="133.7" y2="2169.8" stroke="#9050e0" stroke-width="1"/>
<path d="M116.76 2169.8L105.98 2163.64L105.98 2175.96Z" fill="#8000ff"/>
<text x="139.5" y="2176.34" font-size="20.4" textLength="34.6" lengthAdjust="spacingAndGlyphs">65+</text>
<text x="64.6" y="2391.21" font-size="18.4" text-anchor="end" textLength="9.21" lengthAdjust="spacingAndGlyphs">0</text>
<text x="64.6" y="2345.66" font-size="18.4" text-anchor="end" textLength="18.42" lengthAdjust="spacingAndGlyphs">20</text>
<text x="64.6" y="2300.11" font-size="18.4" text-anchor="end" textLength="18.42" lengthAdjust="spacingAndGlyphs">40</text>
<text x="64.6" y="2254.56" font-size="18.4" text-anchor="end" textLength="18.42" lengthAdjust="spacingAndGlyphs">60</text>
<text x="64.6" y="2209.01" font-size="18.4" text-anchor="end" textLength="18.42" lengthAdjust="spacingAndGlyphs">80</text>
<text x="64.6" y="2163.46" font-size="18.4" text-anchor="end" textLength="27.63" lengthAdjust="spacingAndGlyphs">100</text>
<text x="64.6" y="2117.91" font-size="18.4" text-anchor="end" textLength="27.63" lengthAdjust="spacingAndGlyphs">120</text>
<text x="64.6" y="2072.36" font-size="18.4" text-anchor="end" textLength="27.63" lengthAdjust="spacingAndGlyphs">140</text>
<text x="64.6" y="2026.81" font-size="18.4" text-anchor="end" textLength="27.63" lengthAdjust="spacingAndGlyphs">160</text>
<text x="110.6" y="2412.7" font-size="19.2" text-anchor="middle" textLength="38.01" lengthAdjust="spacingAndGlyphs">2010</text>
<text x="175.15" y="2412.7" font-size="19.2" text-anchor="middle" textLength="36.74" lengthAdjust="spacingAndGlyphs">2011</text>
<text x="239.7" y="2412.7" font-size="19.2" text-anchor="middle" textLength="38.01" lengthAdjust="spacingAndGlyphs">2012</text>
<text x="304.25" y="2412.7" font-size="19.2" text-anchor="middle" textLength="38.01" lengthAdjust="spacingAndGlyphs">2013</text>
<text x="368.8" y="2412.7" font-size="19.2" text-anchor="middle" textLength="38.01" lengthAdjust="spacingAndGlyphs">2014</text>
<text x="433.35" y="2412.7" font-size="19.2" text-anchor="middle" textLength="38.01" lengthAdjust="spacingAndGlyphs">2015</text>
<text x="497.9" y="2412.7" font-size="19.2" text-anchor="middle" textLength="38.01" lengthAdjust="spacingAndGlyphs">2016</text>
<text x="282.4" y="2445.9" font-size="22" textLength="44.4" lengthAdjust="spacingAndGlyphs">Year</text>
<text x="22.4" y="2217.2" font-size="21.7" text-anchor="middle" textLength="43.68" lengthAdjust="spacingAndGlyphs" transform="rotate(-90 22.4 2217.2)">Rate</text>
<text x="36.15" y="2479.1" font-size="23" textLength="415.55" lengthAdjust="spacing" stroke="#fff" stroke-width="0.3">(H) Heroin Temporal trends by age group</text>
<line x1="670.5" y1="2362.71" x2="1122" y2="2362.71" stroke="#d6d6d6" stroke-width="1" stroke-dasharray="1.2 1.8"/>
<line x1="670.5" y1="2317.12" x2="1122" y2="2317.12" stroke="#d6d6d6" stroke-width="1" stroke-dasharray="1.2 1.8"/>
<line x1="670.5" y1="2271.53" x2="1122" y2="2271.53" stroke="#d6d6d6" stroke-width="1" stroke-dasharray="1.2 1.8"/>
<line x1="670.5" y1="2225.94" x2="1122" y2="2225.94" stroke="#d6d6d6" stroke-width="1" stroke-dasharray="1.2 1.8"/>
<line x1="670.5" y1="2180.36" x2="1122" y2="2180.36" stroke="#d6d6d6" stroke-width="1" stroke-dasharray="1.2 1.8"/>
<line x1="670.5" y1="2134.77" x2="1122" y2="2134.77" stroke="#d6d6d6" stroke-width="1" stroke-dasharray="1.2 1.8"/>
<line x1="670.5" y1="2089.18" x2="1122" y2="2089.18" stroke="#d6d6d6" stroke-width="1" stroke-dasharray="1.2 1.8"/>
<line x1="670.5" y1="2043.59" x2="1122" y2="2043.59" stroke="#d6d6d6" stroke-width="1" stroke-dasharray="1.2 1.8"/>
<line x1="733.98" y1="2020.8" x2="733.98" y2="2385.5" stroke="#d6d6d6" stroke-width="1" stroke-dasharray="1.2 1.8"/>
<line x1="798.73" y1="2020.8" x2="798.73" y2="2385.5" stroke="#d6d6d6" stroke-width="1" stroke-dasharray="1.2 1.8"/>
<line x1="863.48" y1="2020.8" x2="863.48" y2="2385.5" stroke="#d6d6d6" stroke-width="1" stroke-dasharray="1.2 1.8"/>
<line x1="928.23" y1="2020.8" x2="928.23" y2="2385.5" stroke="#d6d6d6" stroke-width="1" stroke-dasharray="1.2 1.8"/>
<line x1="992.97" y1="2020.8" x2="992.97" y2="2385.5" stroke="#d6d6d6" stroke-width="1" stroke-dasharray="1.2 1.8"/>
<line x1="1057.72" y1="2020.8" x2="1057.72" y2="2385.5" stroke="#d6d6d6" stroke-width="1" stroke-dasharray="1.2 1.8"/>
<line x1="670.5" y1="2339.91" x2="1122" y2="2339.91" stroke="#a4a4a4" stroke-width="1"/>
<line x1="670.5" y1="2294.32" x2="1122" y2="2294.32" stroke="#a4a4a4" stroke-width="1"/>
<line x1="670.5" y1="2248.74" x2="1122" y2="2248.74" stroke="#a4a4a4" stroke-width="1"/>
<line x1="670.5" y1="2203.15" x2="1122" y2="2203.15" stroke="#a4a4a4" stroke-width="1"/>
<line x1="670.5" y1="2157.56" x2="1122" y2="2157.56" stroke="#a4a4a4" stroke-width="1"/>
<line x1="670.5" y1="2111.97" x2="1122" y2="2111.97" stroke="#a4a4a4" stroke-width="1"/>
<line x1="670.5" y1="2066.39" x2="1122" y2="2066.39" stroke="#a4a4a4" stroke-width="1"/>
<line x1="670.5" y1="2021.3" x2="1122" y2="2021.3" stroke="#a4a4a4" stroke-width="1"/>
<line x1="701.6" y1="2020.8" x2="701.6" y2="2385.5" stroke="#a4a4a4" stroke-width="1"/>
<line x1="766.35" y1="2020.8" x2="766.35" y2="2385.5" stroke="#a4a4a4" stroke-width="1"/>
<line x1="831.1" y1="2020.8" x2="831.1" y2="2385.5" stroke="#a4a4a4" stroke-width="1"/>
<line x1="895.85" y1="2020.8" x2="895.85" y2="2385.5" stroke="#a4a4a4" stroke-width="1"/>
<line x1="960.6" y1="2020.8" x2="960.6" y2="2385.5" stroke="#a4a4a4" stroke-width="1"/>
<line x1="1025.35" y1="2020.8" x2="1025.35" y2="2385.5" stroke="#a4a4a4" stroke-width="1"/>
<line x1="1090.1" y1="2020.8" x2="1090.1" y2="2385.5" stroke="#a4a4a4" stroke-width="1"/>
<line x1="663" y1="2385.5" x2="670.5" y2="2385.5" stroke="#000" stroke-width="1.3"/>
<line x1="663" y1="2339.91" x2="670.5" y2="2339.91" stroke="#000" stroke-width="1.3"/>
<line x1="663" y1="2294.32" x2="670.5" y2="2294.32" stroke="#000" stroke-width="1.3"/>
<line x1="663" y1="2248.74" x2="670.5" y2="2248.74" stroke="#000" stroke-width="1.3"/>
<line x1="663" y1="2203.15" x2="670.5" y2="2203.15" stroke="#000" stroke-width="1.3"/>
<line x1="663" y1="2157.56" x2="670.5" y2="2157.56" stroke="#000" stroke-width="1.3"/>
<line x1="663" y1="2111.97" x2="670.5" y2="2111.97" stroke="#000" stroke-width="1.3"/>
<line x1="663" y1="2066.39" x2="670.5" y2="2066.39" stroke="#000" stroke-width="1.3"/>
<line x1="663" y1="2020.8" x2="670.5" y2="2020.8" stroke="#000" stroke-width="1.3"/>
<line x1="666.5" y1="2362.71" x2="670.5" y2="2362.71" stroke="#000" stroke-width="1.3"/>
<line x1="666.5" y1="2317.12" x2="670.5" y2="2317.12" stroke="#000" stroke-width="1.3"/>
<line x1="666.5" y1="2271.53" x2="670.5" y2="2271.53" stroke="#000" stroke-width="1.3"/>
<line x1="666.5" y1="2225.94" x2="670.5" y2="2225.94" stroke="#000" stroke-width="1.3"/>
<line x1="666.5" y1="2180.36" x2="670.5" y2="2180.36" stroke="#000" stroke-width="1.3"/>
<line x1="666.5" y1="2134.77" x2="670.5" y2="2134.77" stroke="#000" stroke-width="1.3"/>
<line x1="666.5" y1="2089.18" x2="670.5" y2="2089.18" stroke="#000" stroke-width="1.3"/>
<line x1="666.5" y1="2043.59" x2="670.5" y2="2043.59" stroke="#000" stroke-width="1.3"/>
<line x1="701.6" y1="2385.5" x2="701.6" y2="2392.7" stroke="#000" stroke-width="1.4"/>
<line x1="766.35" y1="2385.5" x2="766.35" y2="2392.7" stroke="#000" stroke-width="1.4"/>
<line x1="831.1" y1="2385.5" x2="831.1" y2="2392.7" stroke="#000" stroke-width="1.4"/>
<line x1="895.85" y1="2385.5" x2="895.85" y2="2392.7" stroke="#000" stroke-width="1.4"/>
<line x1="960.6" y1="2385.5" x2="960.6" y2="2392.7" stroke="#000" stroke-width="1.4"/>
<line x1="1025.35" y1="2385.5" x2="1025.35" y2="2392.7" stroke="#000" stroke-width="1.4"/>
<line x1="1090.1" y1="2385.5" x2="1090.1" y2="2392.7" stroke="#000" stroke-width="1.4"/>
<line x1="701.6" y1="2020.8" x2="701.6" y2="2027.8" stroke="#000" stroke-width="1.3"/>
<line x1="733.98" y1="2020.8" x2="733.98" y2="2024.3" stroke="#000" stroke-width="1.3"/>
<line x1="766.35" y1="2020.8" x2="766.35" y2="2027.8" stroke="#000" stroke-width="1.3"/>
<line x1="798.73" y1="2020.8" x2="798.73" y2="2024.3" stroke="#000" stroke-width="1.3"/>
<line x1="831.1" y1="2020.8" x2="831.1" y2="2027.8" stroke="#000" stroke-width="1.3"/>
<line x1="863.48" y1="2020.8" x2="863.48" y2="2024.3" stroke="#000" stroke-width="1.3"/>
<line x1="895.85" y1="2020.8" x2="895.85" y2="2027.8" stroke="#000" stroke-width="1.3"/>
<line x1="928.23" y1="2020.8" x2="928.23" y2="2024.3" stroke="#000" stroke-width="1.3"/>
<line x1="960.6" y1="2020.8" x2="960.6" y2="2027.8" stroke="#000" stroke-width="1.3"/>
<line x1="992.98" y1="2020.8" x2="992.98" y2="2024.3" stroke="#000" stroke-width="1.3"/>
<line x1="1025.35" y1="2020.8" x2="1025.35" y2="2027.8" stroke="#000" stroke-width="1.3"/>
<line x1="1057.72" y1="2020.8" x2="1057.72" y2="2024.3" stroke="#000" stroke-width="1.3"/>
<line x1="1090.1" y1="2020.8" x2="1090.1" y2="2027.8" stroke="#000" stroke-width="1.3"/>
<line x1="1116" y1="2362.71" x2="1122" y2="2362.71" stroke="#000" stroke-width="1.3"/>
<line x1="1116" y1="2339.91" x2="1122" y2="2339.91" stroke="#000" stroke-width="1.3"/>
<line x1="1116" y1="2317.12" x2="1122" y2="2317.12" stroke="#000" stroke-width="1.3"/>
<line x1="1116" y1="2294.32" x2="1122" y2="2294.32" stroke="#000" stroke-width="1.3"/>
<line x1="1116" y1="2271.53" x2="1122" y2="2271.53" stroke="#000" stroke-width="1.3"/>
<line x1="1116" y1="2248.74" x2="1122" y2="2248.74" stroke="#000" stroke-width="1.3"/>
<line x1="1116" y1="2225.94" x2="1122" y2="2225.94" stroke="#000" stroke-width="1.3"/>
<line x1="1116" y1="2203.15" x2="1122" y2="2203.15" stroke="#000" stroke-width="1.3"/>
<line x1="1116" y1="2180.35" x2="1122" y2="2180.35" stroke="#000" stroke-width="1.3"/>
<line x1="1116" y1="2157.56" x2="1122" y2="2157.56" stroke="#000" stroke-width="1.3"/>
<line x1="1116" y1="2134.77" x2="1122" y2="2134.77" stroke="#000" stroke-width="1.3"/>
<line x1="1116" y1="2111.97" x2="1122" y2="2111.97" stroke="#000" stroke-width="1.3"/>
<line x1="1116" y1="2089.18" x2="1122" y2="2089.18" stroke="#000" stroke-width="1.3"/>
<line x1="1116" y1="2066.38" x2="1122" y2="2066.38" stroke="#000" stroke-width="1.3"/>
<line x1="1116" y1="2043.59" x2="1122" y2="2043.59" stroke="#000" stroke-width="1.3"/>
<path d="M701.6 2378.89 L766.35 2377.52 L831.1 2378.89 L895.85 2378.89 L960.6 2378.21 L1025.35 2375.47 L1090.1 2365.21" fill="none" stroke="#505050" stroke-width="1"/>
<path d="M701.6 2331.02 L766.35 2323.73 L831.1 2330.11 L895.85 2336.27 L960.6 2337.86 L1025.35 2329.88 L1090.1 2305.72" fill="none" stroke="#c85858" stroke-width="1"/>
<path d="M701.6 2319.4 L766.35 2311.88 L831.1 2314.38 L895.85 2320.31 L960.6 2321.91 L1025.35 2313.02 L1090.1 2264.24" fill="none" stroke="#4848b8" stroke-width="1"/>
<path d="M701.6 2325.55 L766.35 2319.4 L831.1 2320.54 L895.85 2321.91 L960.6 2328.74 L1025.35 2308.69 L1090.1 2257.86" fill="none" stroke="#d860d8" stroke-width="1"/>
<path d="M701.6 2306.18 L766.35 2303.67 L831.1 2301.16 L895.85 2304.58 L960.6 2309.82 L1025.35 2283.84 L1090.1 2211.13" fill="none" stroke="#4c9a4c" stroke-width="1"/>
<path d="M701.6 2315.52 L766.35 2306.18 L831.1 2300.25 L895.85 2302.99 L960.6 2298.88 L1025.35 2266.06 L1090.1 2141.38" fill="none" stroke="#383878" stroke-width="1"/>
<path d="M701.6 2340.82 L766.35 2337.86 L831.1 2334.21 L895.85 2333.76 L960.6 2329.2 L1025.35 2270.39 L1090.1 2055.9" fill="none" stroke="#9050e0" stroke-width="1"/>
<rect x="697.61" y="2374.9" width="7.98" height="7.98" fill="#000000"/>
<rect x="762.36" y="2373.53" width="7.98" height="7.98" fill="#000000"/>
<rect x="827.11" y="2374.9" width="7.98" height="7.98" fill="#000000"/>
<rect x="891.86" y="2374.9" width="7.98" height="7.98" fill="#000000"/>
<rect x="956.61" y="2374.22" width="7.98" height="7.98" fill="#000000"/>
<rect x="1021.36" y="2371.48" width="7.98" height="7.98" fill="#000000"/>
<rect x="1086.11" y="2361.22" width="7.98" height="7.98" fill="#000000"/>
<circle cx="701.6" cy="2331.02" r="4.62" fill="#ff0000"/>
<circle cx="766.35" cy="2323.73" r="4.62" fill="#ff0000"/>
<circle cx="831.1" cy="2330.11" r="4.62" fill="#ff0000"/>
<circle cx="895.85" cy="2336.27" r="4.62" fill="#ff0000"/>
<circle cx="960.6" cy="2337.86" r="4.62" fill="#ff0000"/>
<circle cx="1025.35" cy="2329.88" r="4.62" fill="#ff0000"/>
<circle cx="1090.1" cy="2305.72" r="4.62" fill="#ff0000"/>
<path d="M701.6 2313.62L707.38 2323.73L695.83 2323.73Z" fill="#0000ff"/>
<path d="M766.35 2306.1L772.12 2316.21L760.58 2316.21Z" fill="#0000ff"/>
<path d="M831.1 2308.61L836.88 2318.71L825.33 2318.71Z" fill="#0000ff"/>
<path d="M895.85 2314.53L901.62 2324.64L890.08 2324.64Z" fill="#0000ff"/>
<path d="M960.6 2316.13L966.38 2326.24L954.83 2326.24Z" fill="#0000ff"/>
<path d="M1025.35 2307.24L1031.12 2317.35L1019.57 2317.35Z" fill="#0000ff"/>
<path d="M1090.1 2258.46L1095.88 2268.57L1084.32 2268.57Z" fill="#0000ff"/>
<path d="M701.6 2331.33L707.38 2321.22L695.83 2321.22Z" fill="#ff00ff"/>
<path d="M766.35 2325.17L772.12 2315.07L760.58 2315.07Z" fill="#ff00ff"/>
<path d="M831.1 2326.31L836.88 2316.21L825.33 2316.21Z" fill="#ff00ff"/>
<path d="M895.85 2327.68L901.62 2317.57L890.08 2317.57Z" fill="#ff00ff"/>
<path d="M960.6 2334.52L966.38 2324.41L954.83 2324.41Z" fill="#ff00ff"/>
<path d="M1025.35 2314.46L1031.12 2304.35L1019.57 2304.35Z" fill="#ff00ff"/>
<path d="M1090.1 2263.63L1095.88 2253.52L1084.32 2253.52Z" fill="#ff00ff"/>
<path d="M701.6 2300.4L707.38 2306.18L701.6 2311.95L695.83 2306.18Z" fill="#008000"/>
<path d="M766.35 2297.9L772.12 2303.67L766.35 2309.45L760.58 2303.67Z" fill="#008000"/>
<path d="M831.1 2295.39L836.88 2301.16L831.1 2306.94L825.33 2301.16Z" fill="#008000"/>
<path d="M895.85 2298.81L901.62 2304.58L895.85 2310.36L890.08 2304.58Z" fill="#008000"/>
<path d="M960.6 2304.05L966.38 2309.82L960.6 2315.6L954.83 2309.82Z" fill="#008000"/>
<path d="M1025.35 2278.06L1031.12 2283.84L1025.35 2289.61L1019.57 2283.84Z" fill="#008000"/>
<path d="M1090.1 2205.35L1095.88 2211.13L1090.1 2216.9L1084.32 2211.13Z" fill="#008000"/>
<path d="M695.83 2315.52L705.93 2309.75L705.93 2321.3Z" fill="#000080"/>
<path d="M760.58 2306.18L770.68 2300.4L770.68 2311.95Z" fill="#000080"/>
<path d="M825.33 2300.25L835.43 2294.48L835.43 2306.03Z" fill="#000080"/>
<path d="M890.08 2302.99L900.18 2297.21L900.18 2308.76Z" fill="#000080"/>
<path d="M954.83 2298.88L964.93 2293.11L964.93 2304.66Z" fill="#000080"/>
<path d="M1019.57 2266.06L1029.68 2260.29L1029.68 2271.84Z" fill="#000080"/>
<path d="M1084.32 2141.38L1094.43 2135.6L1094.43 2147.15Z" fill="#000080"/>
<path d="M707.38 2340.82L697.27 2335.05L697.27 2346.6Z" fill="#8000ff"/>
<path d="M772.12 2337.86L762.02 2332.09L762.02 2343.64Z" fill="#8000ff"/>
<path d="M836.88 2334.21L826.77 2328.44L826.77 2339.99Z" fill="#8000ff"/>
<path d="M901.62 2333.76L891.52 2327.98L891.52 2339.53Z" fill="#8000ff"/>
<path d="M966.38 2329.2L956.27 2323.42L956.27 2334.97Z" fill="#8000ff"/>
<path d="M1031.12 2270.39L1021.02 2264.62L1021.02 2276.17Z" fill="#8000ff"/>
<path d="M1095.88 2055.9L1085.77 2050.13L1085.77 2061.68Z" fill="#8000ff"/>
<rect x="670.5" y="2020.8" width="451.5" height="364.7" fill="none" stroke="#000" stroke-width="1.5"/>
<rect x="674.3" y="2024.8" width="101.4" height="165.8" fill="#fff" stroke="#3c3c3c" stroke-width="1.1"/>
<line x1="676.7" y1="2038" x2="718.8" y2="2038" stroke="#505050" stroke-width="1"/>
<rect x="693.81" y="2034.01" width="7.98" height="7.98" fill="#000000"/>
<text x="724.6" y="2043.93" font-size="18.7" textLength="37.42" lengthAdjust="spacingAndGlyphs">0-14</text>
<line x1="676.7" y1="2061" x2="718.8" y2="2061" stroke="#c85858" stroke-width="1"/>
<circle cx="697.8" cy="2061" r="4.62" fill="#ff0000"/>
<text x="724.6" y="2066.93" font-size="18.7" textLength="47.82" lengthAdjust="spacingAndGlyphs">15-24</text>
<line x1="676.7" y1="2084.6" x2="718.8" y2="2084.6" stroke="#4848b8" stroke-width="1"/>
<path d="M697.8 2078.82L703.57 2088.93L692.02 2088.93Z" fill="#0000ff"/>
<text x="724.6" y="2090.53" font-size="18.7" textLength="47.82" lengthAdjust="spacingAndGlyphs">25-34</text>
<line x1="676.7" y1="2108.1" x2="718.8" y2="2108.1" stroke="#d860d8" stroke-width="1"/>
<path d="M697.8 2113.88L703.57 2103.77L692.02 2103.77Z" fill="#ff00ff"/>
<text x="724.6" y="2114.03" font-size="18.7" textLength="47.82" lengthAdjust="spacingAndGlyphs">35-44</text>
<line x1="676.7" y1="2131.1" x2="718.8" y2="2131.1" stroke="#4c9a4c" stroke-width="1"/>
<path d="M697.8 2125.32L703.57 2131.1L697.8 2136.88L692.02 2131.1Z" fill="#008000"/>
<text x="724.6" y="2137.03" font-size="18.7" textLength="47.82" lengthAdjust="spacingAndGlyphs">45-54</text>
<line x1="676.7" y1="2154.6" x2="718.8" y2="2154.6" stroke="#383878" stroke-width="1"/>
<path d="M692.02 2154.6L702.13 2148.82L702.13 2160.38Z" fill="#000080"/>
<text x="724.6" y="2160.53" font-size="18.7" textLength="47.82" lengthAdjust="spacingAndGlyphs">55-64</text>
<line x1="676.7" y1="2177.6" x2="718.8" y2="2177.6" stroke="#9050e0" stroke-width="1"/>
<path d="M703.57 2177.6L693.47 2171.82L693.47 2183.38Z" fill="#8000ff"/>
<text x="724.6" y="2183.53" font-size="18.7" textLength="31.72" lengthAdjust="spacingAndGlyphs">65+</text>
<text x="657.4" y="2390.31" font-size="16.7" text-anchor="end" textLength="8.08" lengthAdjust="spacingAndGlyphs">0</text>
<text x="657.4" y="2344.72" font-size="16.7" text-anchor="end" textLength="16.16" lengthAdjust="spacingAndGlyphs">20</text>
<text x="657.4" y="2299.14" font-size="16.7" text-anchor="end" textLength="16.16" lengthAdjust="spacingAndGlyphs">40</text>
<text x="657.4" y="2253.55" font-size="16.7" text-anchor="end" textLength="16.16" lengthAdjust="spacingAndGlyphs">60</text>
<text x="657.4" y="2207.96" font-size="16.7" text-anchor="end" textLength="16.16" lengthAdjust="spacingAndGlyphs">80</text>
<text x="657.4" y="2162.37" font-size="16.7" text-anchor="end" textLength="24.24" lengthAdjust="spacingAndGlyphs">100</text>
<text x="657.4" y="2116.79" font-size="16.7" text-anchor="end" textLength="24.24" lengthAdjust="spacingAndGlyphs">120</text>
<text x="657.4" y="2071.2" font-size="16.7" text-anchor="end" textLength="24.24" lengthAdjust="spacingAndGlyphs">140</text>
<text x="657.4" y="2025.61" font-size="16.7" text-anchor="end" textLength="24.24" lengthAdjust="spacingAndGlyphs">160</text>
<text x="701.6" y="2409.4" font-size="17.5" text-anchor="middle" textLength="35.03" lengthAdjust="spacingAndGlyphs">2010</text>
<text x="766.35" y="2409.4" font-size="17.5" text-anchor="middle" textLength="33.86" lengthAdjust="spacingAndGlyphs">2011</text>
<text x="831.1" y="2409.4" font-size="17.5" text-anchor="middle" textLength="35.03" lengthAdjust="spacingAndGlyphs">2012</text>
<text x="895.85" y="2409.4" font-size="17.5" text-anchor="middle" textLength="35.03" lengthAdjust="spacingAndGlyphs">2013</text>
<text x="960.6" y="2409.4" font-size="17.5" text-anchor="middle" textLength="35.03" lengthAdjust="spacingAndGlyphs">2014</text>
<text x="1025.35" y="2409.4" font-size="17.5" text-anchor="middle" textLength="35.03" lengthAdjust="spacingAndGlyphs">2015</text>
<text x="1090.1" y="2409.4" font-size="17.5" text-anchor="middle" textLength="35.03" lengthAdjust="spacingAndGlyphs">2016</text>
<text x="876" y="2438.7" font-size="19" textLength="40.8" lengthAdjust="spacingAndGlyphs">Year</text>
<text x="623.5" y="2202.8" font-size="18.8" text-anchor="middle" textLength="40.21" lengthAdjust="spacingAndGlyphs" transform="rotate(-90 623.5 2202.8)">Rate</text>
<text x="659.35" y="2463.2" font-size="23" textLength="450.65" lengthAdjust="spacing" stroke="#fff" stroke-width="0.3">(I) Non-heroin Temporal trends by age group</text>
</svg>
</body></html>
